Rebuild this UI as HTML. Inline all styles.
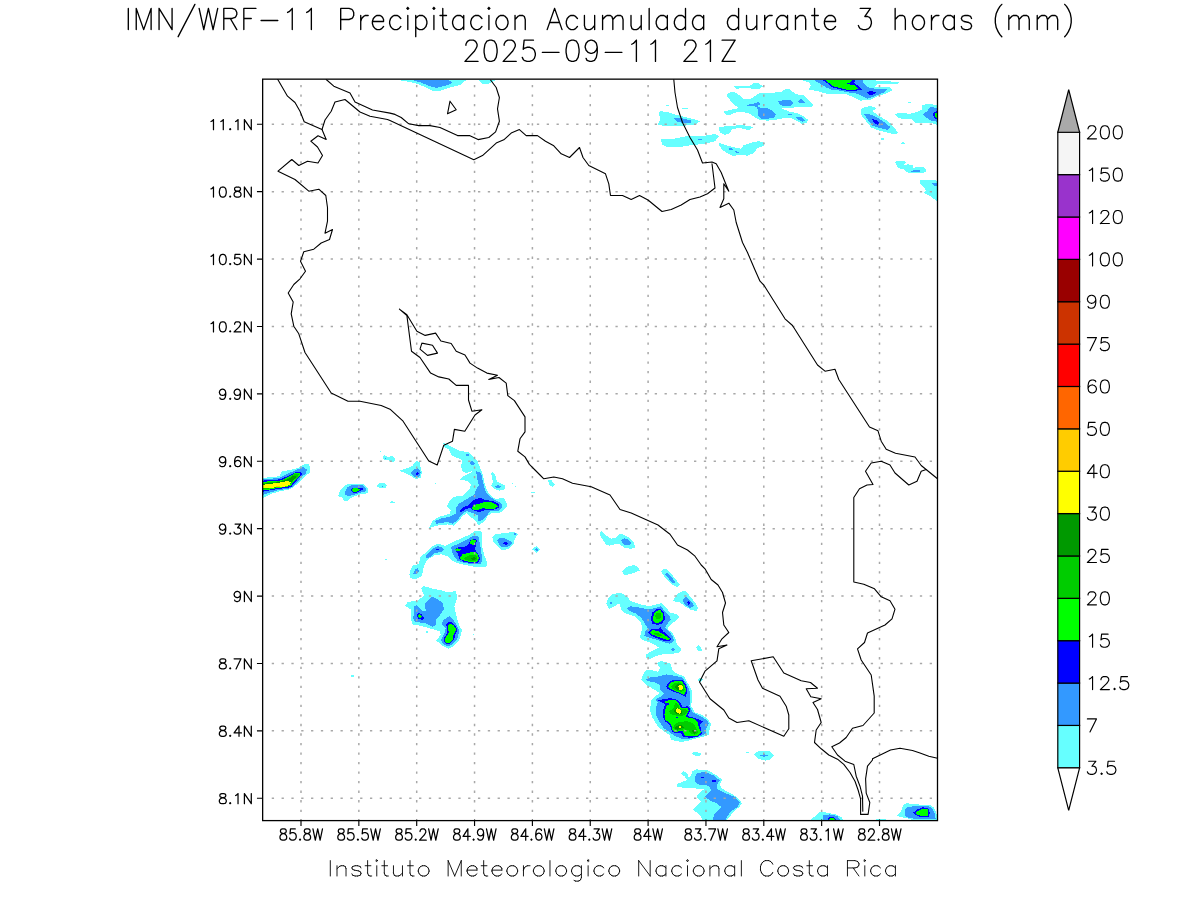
<!DOCTYPE html>
<html lang="es"><head><meta charset="utf-8"><title>IMN/WRF-11 Precipitacion Acumulada durante 3 horas (mm)</title>
<style>
html,body{margin:0;padding:0;background:#fff;}
body{width:1200px;height:900px;overflow:hidden;font-family:"Liberation Sans",sans-serif;}
svg{display:block}
.ax{font-family:"Liberation Sans",sans-serif;font-size:17.6px;fill:#000;stroke:#fff;stroke-width:0.15px}
.ay{font-family:"Liberation Sans",sans-serif;font-size:15.6px;fill:#000}
.hid{font-family:"Liberation Sans",sans-serif;fill:#000;fill-opacity:0}
</style></head><body>
<svg width="1200" height="900" viewBox="0 0 1200 900">
<rect x="0" y="0" width="1200" height="900" fill="#fff"/>
<defs><clipPath id="cp"><rect x="262.65" y="79.15" width="674.85" height="741.45"/></clipPath></defs>
<g clip-path="url(#cp)" shape-rendering="crispEdges" stroke="none">
<path fill="#66FFFF" d="M660.0 111.2L667.5 111.9L675.0 114.4L685.0 116.9L692.5 118.8L700.0 121.2L696.2 124.4L685.0 125.6L673.8 125.6L662.5 125.6L658.1 124.4L660.6 118.8L658.8 113.8Z"/>
<path fill="#3399FF" d="M674.4 117.5L680.0 117.5L686.2 119.4L691.9 120.6L690.6 122.8L683.8 123.1L677.5 121.9L674.4 119.4Z"/>
<path fill="#66FFFF" d="M666.2 105.0L668.8 105.0L668.8 105.8L666.2 105.8Z"/>
<path fill="#66FFFF" d="M681.9 107.9L687.8 107.9L687.8 108.8L681.9 108.8Z"/>
<path fill="#66FFFF" d="M660.6 139.4L673.8 138.8L690.0 135.6L705.0 135.6L715.0 134.0L718.8 136.2L715.0 141.2L705.0 143.8L692.5 145.0L680.0 146.9L667.5 146.9L662.5 145.0Z"/>
<path fill="#3399FF" d="M698.1 139.0L701.9 139.0L701.9 140.0L698.1 140.0Z"/>
<path fill="#66FFFF" d="M719.4 126.9L730.0 126.0L742.5 125.0L753.8 126.9L748.8 130.0L740.0 128.1L732.5 128.8L730.0 133.1L725.0 134.8L720.6 133.1L719.0 130.0Z"/>
<path fill="#66FFFF" d="M718.1 142.5L725.0 145.0L735.0 147.5L741.2 148.8L743.8 145.0L752.5 142.5L758.8 141.0L765.0 143.1L763.8 145.6L757.5 148.1L753.8 153.1L747.5 155.6L740.0 155.0L732.5 156.0L728.1 153.8L722.5 150.0L719.4 145.6Z"/>
<path fill="#3399FF" d="M728.1 148.8L731.2 148.1L733.8 149.8L730.0 150.6Z"/>
<path fill="#3399FF" d="M735.0 151.2L740.0 151.9L739.0 153.1L735.6 152.5Z"/>
<path fill="#66FFFF" d="M734.0 86.2L742.5 86.0L750.0 85.6L753.8 83.1L758.8 83.5L763.1 86.2L758.8 89.4L753.8 89.4L748.8 87.5L742.5 88.1L736.2 88.8Z"/>
<path fill="#66FFFF" d="M726.2 95.0L730.0 92.2L735.0 92.5L740.0 95.6L743.8 99.4L750.0 99.4L753.8 96.9L760.0 92.5L767.5 92.5L775.0 92.5L781.2 91.9L785.6 89.0L789.4 89.4L796.2 94.4L803.8 95.0L808.8 100.0L813.8 105.0L811.2 106.9L802.5 106.9L790.0 107.8L781.2 108.1L790.0 111.9L797.5 113.1L803.8 116.2L808.1 120.0L806.2 123.1L801.9 123.8L796.2 120.6L790.6 117.5L780.0 118.8L775.0 120.0L767.5 120.6L760.0 120.2L755.0 117.5L750.0 113.8L742.5 111.9L736.2 112.5L730.0 114.8L725.0 114.4L724.1 111.5L730.0 110.0L738.8 108.1L733.8 104.4L730.0 100.0Z"/>
<path fill="#3399FF" d="M746.2 105.0L752.5 103.8L759.4 101.9L759.8 104.4L757.5 106.2L761.2 107.8L767.5 108.1L772.5 110.6L775.6 114.4L774.4 117.5L767.5 118.8L761.2 118.5L758.5 115.6L758.1 111.2L756.9 107.5L753.8 106.2L748.1 106.2Z"/>
<path fill="#3399FF" d="M778.1 101.2L785.0 100.0L791.9 100.6L793.1 103.1L791.2 105.6L785.0 106.2L780.0 105.0Z"/>
<path fill="#3399FF" d="M797.5 101.2L801.2 98.8L805.0 102.5L799.4 102.8Z"/>
<path fill="#3399FF" d="M795.0 116.9L801.9 117.5L805.6 120.6L802.5 121.9L797.5 119.4Z"/>
<path fill="#3399FF" d="M788.1 114.0L791.9 114.0L791.9 115.0L788.1 115.0Z"/>
<path fill="#66FFFF" d="M801.2 80.0L808.8 82.5L811.2 85.6L808.1 89.4L815.0 90.6L827.5 93.8L835.0 94.4L845.0 93.8L852.5 96.9L860.0 100.6L870.0 100.0L877.5 96.2L885.0 93.8L892.5 90.0L890.0 87.5L875.0 86.9L877.5 84.4L890.0 84.4L901.9 83.1L896.2 81.9L887.5 81.2L877.5 80.6L870.0 80.0Z"/>
<path fill="#3399FF" d="M813.8 80.0L820.0 83.8L826.2 87.5L832.5 90.0L840.0 90.6L848.8 92.5L857.5 93.8L862.5 96.2L867.5 98.8L876.2 95.6L883.8 92.5L886.9 89.4L877.5 88.8L870.0 88.1L865.0 85.0L862.5 81.9L863.8 80.0Z"/>
<path fill="#0000FF" d="M821.9 80.0L827.5 83.1L831.2 86.9L840.0 89.4L848.8 91.0L856.2 90.6L862.5 89.4L858.1 85.6L854.4 83.1L855.0 80.0Z"/>
<path fill="#0000FF" d="M866.9 92.5L870.0 90.6L876.2 92.5L872.5 95.0L868.8 94.4Z"/>
<path fill="#00FF00" d="M825.6 80.0L830.0 83.8L833.1 86.2L840.0 88.1L848.8 90.2L854.4 90.0L858.1 88.8L855.0 85.6L846.2 83.8L851.2 81.9L852.5 80.0Z"/>
<path fill="#66FFFF" d="M860.6 109.4L865.0 106.9L871.2 106.2L876.2 108.1L872.5 111.2L877.5 115.0L885.0 119.4L891.2 123.8L895.0 128.8L898.8 133.1L893.8 134.4L885.0 131.9L877.5 130.0L871.2 127.5L866.2 121.2L861.2 115.0Z"/>
<path fill="#3399FF" d="M864.4 114.4L870.0 114.4L877.5 117.5L883.8 121.9L890.0 126.9L887.5 130.0L880.0 128.1L872.5 125.6L868.1 120.0Z"/>
<path fill="#0000FF" d="M871.9 118.8L876.2 120.0L879.4 123.1L877.5 125.0L873.8 123.1Z"/>
<path fill="#66FFFF" d="M893.8 113.8L902.5 113.1L910.0 113.8L917.5 111.9L922.5 109.4L921.9 105.6L926.2 104.0L937.5 104.8L937.5 125.0L931.2 123.1L922.5 122.5L915.0 123.1L911.9 118.8L905.0 119.4L898.8 118.1Z"/>
<path fill="#3399FF" d="M922.5 114.4L927.5 111.2L930.0 106.9L937.5 108.1L937.5 121.9L931.2 120.6L926.2 117.5Z"/>
<path fill="#0000FF" d="M932.5 113.8L935.0 111.9L937.5 111.2L937.5 120.0L934.4 118.1Z"/>
<path fill="#00FF00" d="M934.4 113.8L937.5 112.5L937.5 118.8L935.0 116.9Z"/>
<path fill="#66FFFF" d="M908.1 101.9L911.0 101.9L911.0 102.8L908.1 102.8Z"/>
<path fill="#66FFFF" d="M881.2 138.1L883.8 138.1L883.8 140.0L881.2 140.0Z"/>
<path fill="#66FFFF" d="M901.2 143.5L903.1 141.9L905.0 143.8Z"/>
<path fill="#66FFFF" d="M895.0 162.1L896.7 161.0L904.6 161.0L906.0 162.3L904.2 164.2L904.6 165.4L908.3 164.2L912.5 165.4L913.3 167.9L917.1 167.1L923.3 167.1L925.8 169.2L925.8 171.7L923.8 172.8L908.3 172.8L905.8 171.2L903.8 169.2L900.0 168.8L897.5 167.1L896.2 164.2Z"/>
<path fill="#3399FF" d="M910.8 171.7L913.3 170.0L920.0 170.0L920.0 171.7Z"/>
<path fill="#66FFFF" d="M920.0 180.2L935.0 180.2L936.8 181.2L937.9 181.2L937.9 202.5L930.8 196.2L926.7 194.6L923.8 192.9L926.2 190.4L920.0 183.3Z"/>
<path fill="#3399FF" d="M932.1 183.3L935.0 182.9L937.9 183.3L937.9 186.7L935.0 186.2Z"/>
<path fill="#66FFFF" d="M901.2 143.3L902.9 142.1L905.0 143.5L901.7 143.8Z"/>
<path fill="#66FFFF" d="M398.8 80.0L415.0 83.1L425.0 86.9L432.5 90.6L441.2 90.6L450.0 87.5L460.0 85.0L466.2 80.0Z"/>
<path fill="#3399FF" d="M412.5 80.0L422.5 83.1L430.0 86.2L436.2 87.8L443.8 86.2L452.5 83.1L448.8 80.0Z"/>
<path fill="#66FFFF" d="M478.8 80.0L482.5 83.8L488.8 83.8L495.6 80.0Z"/>
<path fill="#66FFFF" d="M262.5 477.9L271.2 477.1L279.4 476.2L281.9 471.2L290.0 470.0L297.5 468.1L303.8 464.4L309.4 464.4L310.0 472.5L305.0 476.2L296.2 485.0L290.0 489.4L280.0 491.2L271.2 493.8L262.5 498.1Z"/>
<path fill="#3399FF" d="M262.5 479.4L271.2 478.8L280.0 477.5L286.2 474.4L296.2 470.0L303.1 467.2L306.9 469.4L306.2 473.1L301.2 477.5L295.0 485.0L288.8 488.8L278.8 490.0L270.0 492.5L262.5 495.0Z"/>
<path fill="#0000FF" d="M262.5 480.6L271.2 480.0L280.0 479.4L287.5 476.2L296.2 471.9L301.2 471.5L301.9 474.4L297.5 479.4L291.2 486.9L286.2 488.1L277.5 489.0L268.8 490.6L262.5 491.9Z"/>
<path fill="#00FF00" d="M262.5 481.9L270.0 481.2L280.0 480.6L287.5 477.5L295.0 473.1L300.0 472.8L300.6 474.4L296.2 479.4L290.6 485.6L286.2 486.9L277.5 488.1L268.8 489.8L262.5 490.2Z"/>
<path fill="#00CC00" d="M262.5 482.8L271.2 482.2L280.0 481.2L288.1 478.1L295.0 474.0L298.8 474.0L298.1 476.9L293.8 480.0L289.4 485.6L283.8 486.5L273.8 487.8L262.5 489.4Z"/>
<path fill="#009900" d="M262.5 483.8L271.2 483.1L280.0 481.9L288.8 478.8L293.8 475.6L296.9 475.6L295.0 478.8L291.2 481.9L288.8 485.2L282.5 486.0L273.8 487.2L262.5 488.5Z"/>
<path fill="#FFFF00" d="M262.5 484.8L271.2 483.8L280.0 482.5L288.1 481.0L291.2 482.5L289.4 484.8L285.0 486.5L280.0 486.9L273.8 487.5L267.5 488.1L262.5 488.5Z"/>
<path fill="#FFCC00" d="M275.6 486.0L280.0 486.0L280.0 486.6L275.6 486.6Z"/>
<path fill="#66FFFF" d="M338.1 496.2L340.6 489.4L347.5 483.8L353.8 483.8L363.8 484.0L368.1 488.1L368.1 492.5L365.0 494.4L360.0 494.4L352.5 496.9L347.5 500.6L344.4 500.6L341.9 497.5Z"/>
<path fill="#3399FF" d="M345.0 491.9L347.5 487.5L351.9 485.0L362.5 485.0L366.2 488.1L366.2 491.2L361.2 492.5L355.0 494.4L348.8 496.2L345.6 495.0Z"/>
<path fill="#0000FF" d="M350.6 490.0L353.1 487.8L360.0 487.5L364.4 489.0L360.6 490.6L357.5 492.5L353.1 492.8Z"/>
<path fill="#00FF00" d="M351.2 490.0L353.8 488.1L358.1 488.5L360.0 489.8L357.5 491.5L353.8 491.9Z"/>
<path fill="#66FFFF" d="M376.9 485.0L380.0 482.5L384.4 482.5L386.9 485.0L385.6 487.5L380.0 488.1L377.5 486.9Z"/>
<path fill="#3399FF" d="M381.8 485.8L382.8 485.8L382.8 486.8L381.8 486.8Z"/>
<path fill="#66FFFF" d="M382.2 456.9L384.4 455.0L387.5 456.9L392.5 456.2L394.8 458.8L394.4 461.5L390.6 461.5L387.5 460.0L383.8 460.0Z"/>
<path fill="#3399FF" d="M385.0 457.5L386.2 457.5L386.2 458.8L385.0 458.8Z"/>
<path fill="#66FFFF" d="M379.5 451.0L380.8 451.0L380.8 452.0L379.5 452.0Z"/>
<path fill="#66FFFF" d="M390.0 502.1L391.9 501.2L394.8 502.1L394.8 502.9L390.0 502.9Z"/>
<path fill="#66FFFF" d="M443.1 442.5L447.5 444.4L453.8 448.1L460.0 451.2L468.8 451.9L473.1 456.2L477.5 461.2L480.0 467.5L482.5 473.8L484.4 482.5L486.9 490.0L490.0 495.0L495.0 498.8L503.8 498.1L505.6 501.2L507.5 505.6L503.8 510.0L500.0 512.5L491.2 513.1L487.5 516.2L485.0 521.2L478.8 525.0L475.0 520.6L470.0 516.2L466.2 513.1L462.5 516.2L457.5 522.5L453.8 525.6L447.5 524.4L437.5 525.6L428.8 528.1L432.5 521.2L438.8 516.9L450.0 513.8L450.6 510.0L446.9 506.2L450.0 500.0L453.8 496.9L462.5 495.6L468.8 490.0L471.2 485.0L468.8 481.9L465.0 480.6L460.0 479.4L462.5 476.9L470.0 473.1L471.9 471.2L466.2 473.1L461.9 471.2L461.2 465.6L462.5 460.0L457.5 458.1L451.2 455.0L448.8 449.4L444.4 446.9Z"/>
<path fill="#3399FF" d="M476.2 471.2L481.2 473.1L483.1 482.5L485.0 490.6L489.4 496.2L495.0 500.0L501.2 503.1L502.5 506.9L498.8 510.6L490.0 511.2L487.5 515.0L482.5 520.0L478.1 521.2L477.5 515.0L470.0 511.9L466.2 511.2L461.2 515.0L457.5 520.0L452.5 523.8L447.5 521.9L436.2 523.8L435.0 521.2L440.0 518.8L451.2 516.2L456.2 513.1L455.6 508.8L458.8 503.8L466.2 499.4L473.8 495.0L476.2 490.0L478.8 485.0L476.9 477.5Z"/>
<path fill="#3399FF" d="M466.2 453.8L469.4 453.8L469.4 455.6L466.2 455.6Z"/>
<path fill="#3399FF" d="M470.0 461.9L472.5 461.2L475.0 463.8L473.1 465.6L470.6 464.4Z"/>
<path fill="#0000FF" d="M460.0 510.6L463.1 507.5L468.8 505.0L471.2 501.9L476.2 498.8L481.2 498.1L485.0 500.0L493.8 501.2L498.8 503.8L499.4 506.9L496.2 509.4L485.0 510.0L480.0 511.9L475.0 511.2L470.0 508.1L466.2 508.8L462.5 511.2L460.0 512.8Z"/>
<path fill="#00FF00" d="M471.9 508.1L473.8 505.0L481.2 503.1L485.0 501.9L491.2 502.2L496.2 504.4L498.1 506.2L495.0 508.5L487.5 508.8L482.5 508.1L476.9 510.6L473.8 509.8Z"/>
<path fill="#66FFFF" d="M399.4 470.6L407.5 468.1L412.5 465.6L416.2 460.6L419.4 461.9L420.6 467.5L421.9 472.5L420.6 477.5L416.2 479.4L411.2 476.2L405.0 473.1Z"/>
<path fill="#3399FF" d="M411.2 472.5L413.8 469.4L418.1 468.1L420.6 471.9L420.0 476.2L415.6 477.5L411.9 475.0Z"/>
<path fill="#0000FF" d="M415.6 473.1L417.5 471.9L419.4 473.1L418.1 475.0L416.2 474.8Z"/>
<path fill="#66FFFF" d="M491.2 473.8L493.1 471.9L495.6 476.2L496.9 481.2L501.2 483.8L505.0 485.6L504.4 490.0L498.8 490.6L493.8 488.8L491.2 485.6L493.1 481.9L491.9 477.5Z"/>
<path fill="#3399FF" d="M495.0 486.2L498.1 484.8L501.2 486.5L498.8 488.5L496.0 487.8Z"/>
<path fill="#66FFFF" d="M434.8 482.8L435.8 482.8L435.8 483.8L434.8 483.8Z"/>
<path fill="#66FFFF" d="M512.0 482.8L513.0 482.8L513.0 483.8L512.0 483.8Z"/>
<path fill="#66FFFF" d="M514.8 485.8L515.8 485.8L515.8 486.8L514.8 486.8Z"/>
<path fill="#66FFFF" d="M531.2 492.0L534.8 492.0L534.8 492.9L531.2 492.9Z"/>
<path fill="#66FFFF" d="M409.4 575.0L410.6 569.4L413.1 565.6L418.8 563.8L420.6 556.2L426.2 552.5L431.2 546.9L436.2 544.4L441.2 544.4L445.0 546.2L451.2 543.1L460.0 538.8L468.8 535.0L475.0 531.2L481.2 531.2L482.5 536.2L481.9 545.0L483.8 553.8L487.5 563.8L486.2 566.9L475.0 566.9L465.0 565.0L457.5 563.1L451.2 560.0L447.5 556.2L441.2 554.4L435.0 555.0L428.8 558.8L425.0 563.1L423.1 570.0L421.9 576.2L415.0 579.4L410.6 578.1Z"/>
<path fill="#3399FF" d="M425.6 556.2L428.8 552.5L432.5 548.8L437.5 546.2L441.9 547.5L444.4 549.4L441.2 551.9L435.0 553.1L430.0 556.9L426.2 558.5Z"/>
<path fill="#0000FF" d="M435.6 549.0L439.4 549.0L439.4 550.0L435.6 550.0Z"/>
<path fill="#3399FF" d="M413.1 573.8L415.0 569.4L418.1 568.1L418.8 571.2L416.2 574.4Z"/>
<path fill="#3399FF" d="M451.2 546.9L460.0 543.1L467.5 539.4L473.1 535.6L478.1 535.6L480.0 543.8L481.2 552.5L482.5 560.0L480.6 564.4L473.8 564.4L465.0 563.1L457.5 560.6L453.8 556.2L451.9 551.2Z"/>
<path fill="#0000FF" d="M455.0 549.4L457.5 547.5L465.0 546.9L468.8 543.8L470.0 540.6L473.8 538.8L476.9 540.0L476.2 544.4L475.0 549.4L478.1 553.8L480.0 558.8L478.1 562.5L471.2 563.1L463.8 561.9L459.4 558.8L457.5 553.1Z"/>
<path fill="#00FF00" d="M470.0 541.9L472.5 539.4L476.0 540.0L475.0 543.1L473.1 545.0L470.6 544.0Z"/>
<path fill="#00FF00" d="M455.2 549.4L457.5 548.1L461.2 549.8L459.4 551.2L456.2 551.0Z"/>
<path fill="#00FF00" d="M460.2 557.5L462.5 554.4L468.8 552.8L475.0 551.5L477.8 554.4L479.0 558.8L476.9 561.5L470.0 561.9L463.8 560.6L460.6 559.4Z"/>
<path fill="#00CC00" d="M463.8 558.1L468.8 555.6L475.0 554.4L477.5 557.5L476.2 560.6L470.0 561.0L465.0 560.0Z"/>
<path fill="#009900" d="M471.2 558.1L475.0 556.9L476.2 558.8L474.4 560.2L471.9 559.8Z"/>
<path fill="#66FFFF" d="M492.2 537.5L495.0 534.4L503.8 533.1L513.8 531.9L518.1 533.8L515.0 538.8L513.1 545.0L507.5 549.4L501.2 550.0L497.5 546.2L493.8 542.5Z"/>
<path fill="#3399FF" d="M496.9 540.0L500.0 538.1L505.0 538.5L508.8 540.6L512.5 542.5L510.0 545.6L505.0 547.5L501.2 546.5L498.8 543.8Z"/>
<path fill="#0000FF" d="M503.1 543.1L505.0 541.9L508.8 543.1L506.2 544.8L504.0 544.4Z"/>
<path fill="#3399FF" d="M513.8 533.1L516.2 533.1L516.2 534.8L513.8 534.8Z"/>
<path fill="#66FFFF" d="M532.1 549.4L536.2 546.0L540.6 549.4L536.9 552.8Z"/>
<path fill="#3399FF" d="M535.0 549.4L536.9 548.1L538.8 549.8L536.9 551.0Z"/>
<path fill="#66FFFF" d="M405.0 606.2L407.5 601.9L417.5 600.6L424.0 595.6L421.2 588.1L423.8 586.2L432.5 588.5L442.5 590.6L448.8 592.5L455.6 591.0L457.5 597.5L454.4 606.2L456.2 615.0L458.8 624.4L461.9 630.0L460.0 638.8L455.0 645.0L448.8 648.8L442.5 645.6L436.2 640.6L440.6 635.0L440.0 631.2L431.2 628.8L420.0 625.6L412.5 624.4L410.6 618.8L411.2 609.4Z"/>
<path fill="#3399FF" d="M413.8 606.2L416.9 605.0L421.9 610.6L425.6 610.6L425.0 603.1L431.9 596.2L436.9 598.8L443.1 603.1L443.8 609.4L440.0 615.0L435.6 620.0L436.2 625.0L432.5 626.9L425.0 623.1L415.0 621.9L413.1 618.1L414.4 610.6Z"/>
<path fill="#0000FF" d="M416.9 615.0L418.8 612.2L421.9 614.8L424.0 618.1L422.5 619.8L418.1 618.8Z"/>
<path fill="#00FF00" d="M417.9 615.6L419.6 613.8L421.9 616.5L420.9 618.1L418.8 617.5Z"/>
<path fill="#3399FF" d="M441.2 623.1L445.0 618.8L450.0 616.2L453.8 620.6L457.5 626.9L459.4 631.2L456.9 640.0L452.5 644.4L447.5 646.5L443.1 643.8L441.2 640.0L444.4 633.8L445.6 628.1Z"/>
<path fill="#0000FF" d="M446.2 624.4L448.1 621.9L451.9 622.2L455.0 625.0L457.5 629.4L455.6 633.8L453.8 640.0L450.0 643.8L446.2 644.0L443.5 641.2L444.4 637.5L447.5 632.5L446.9 627.5Z"/>
<path fill="#00FF00" d="M448.1 625.0L450.6 623.5L453.8 625.6L456.2 629.4L454.4 633.1L452.5 636.2L452.5 640.0L449.4 642.8L445.6 642.5L444.4 640.0L446.2 636.9L448.8 632.5L448.1 628.8Z"/>
<path fill="#66FFFF" d="M426.0 631.2L427.8 631.2L427.8 633.1L426.0 633.1Z"/>
<path fill="#66FFFF" d="M473.0 634.0L474.1 634.0L474.1 635.1L473.0 635.1Z"/>
<path fill="#66FFFF" d="M600.0 531.9L601.9 531.0L606.2 535.6L611.2 538.8L615.6 537.5L618.8 534.4L623.1 534.4L630.0 538.1L633.8 541.9L635.0 547.5L631.2 548.8L625.0 548.1L620.0 544.4L615.6 544.0L610.0 545.6L606.2 545.0L602.5 539.4L600.0 535.0Z"/>
<path fill="#3399FF" d="M621.2 540.0L624.4 538.1L628.8 540.0L631.9 543.1L629.4 545.6L625.0 545.0L622.5 542.8Z"/>
<path fill="#66FFFF" d="M622.2 571.9L625.0 568.1L629.4 566.0L634.4 565.0L638.1 567.5L640.0 570.6L636.2 571.9L630.0 574.4L623.8 574.8Z"/>
<path fill="#66FFFF" d="M661.2 571.9L663.1 569.4L666.9 569.4L671.2 573.8L675.6 579.4L680.0 584.4L677.5 586.9L672.5 585.0L667.5 580.0L663.1 575.0Z"/>
<path fill="#3399FF" d="M665.0 574.4L666.9 572.5L670.0 575.0L673.8 580.0L675.6 583.1L672.5 583.1L668.8 578.8L666.2 576.2Z"/>
<path fill="#66FFFF" d="M673.1 600.6L676.9 594.4L682.5 591.0L686.2 591.5L690.0 596.2L695.0 602.5L698.1 607.5L696.2 611.2L690.0 609.4L685.0 606.2L680.0 602.5L675.6 601.9Z"/>
<path fill="#3399FF" d="M683.1 600.0L685.6 596.9L688.8 598.8L692.5 603.1L694.0 606.2L690.0 608.1L686.2 605.6L683.8 603.1Z"/>
<path fill="#0000FF" d="M686.9 602.5L688.8 601.0L690.0 603.1L688.5 605.0Z"/>
<path fill="#66FFFF" d="M606.2 603.8L608.1 598.1L612.5 593.8L621.2 593.1L627.5 596.9L630.0 600.6L640.0 604.4L650.0 606.2L656.2 604.4L661.2 603.1L666.2 607.5L670.0 613.1L676.2 613.8L679.4 617.5L675.0 621.2L670.0 625.0L667.5 628.8L672.5 633.1L675.0 637.5L676.9 643.8L681.9 650.0L678.8 652.5L672.5 653.8L665.0 653.8L657.5 655.6L650.0 658.8L645.6 658.1L646.2 654.4L651.2 651.2L658.8 647.5L655.0 645.0L650.0 642.5L642.5 640.0L640.0 638.1L641.2 631.9L642.5 627.5L640.0 621.2L635.0 616.2L626.2 613.8L621.2 610.0L619.4 603.1L613.8 606.9L608.8 608.8Z"/>
<path fill="#3399FF" d="M626.9 608.8L630.0 606.2L638.8 607.5L648.8 609.4L655.0 608.1L661.2 606.2L665.0 611.9L669.4 616.2L670.6 619.4L667.5 623.8L665.0 627.5L670.0 632.5L673.1 636.9L673.8 641.2L670.0 643.8L665.0 642.5L657.5 640.0L650.0 638.1L644.4 635.6L645.0 631.9L648.1 628.8L645.0 623.8L641.2 617.5L635.0 613.1L630.0 611.2Z"/>
<path fill="#3399FF" d="M670.0 650.0L673.1 647.8L675.0 650.0L673.8 651.2Z"/>
<path fill="#3399FF" d="M610.0 602.2L611.9 602.2L611.9 604.0L610.0 604.0Z"/>
<path fill="#0000FF" d="M650.6 618.8L652.5 612.5L656.2 609.4L660.6 608.5L663.8 612.5L665.0 618.8L661.9 623.8L657.5 625.0L652.5 623.5Z"/>
<path fill="#00FF00" d="M652.9 618.8L654.0 613.1L656.9 610.6L660.6 610.2L662.8 613.8L663.1 618.8L660.6 622.2L656.9 623.1L653.8 621.9Z"/>
<path fill="#00CC00" d="M655.0 615.6L657.2 612.5L660.6 613.1L661.5 616.2L659.8 619.0L656.5 618.5Z"/>
<path fill="#0000FF" d="M648.1 631.9L651.2 629.4L657.5 629.4L660.6 627.2L663.1 631.2L667.5 635.0L671.2 638.1L670.0 641.2L666.2 641.5L660.0 639.4L653.8 636.9L650.0 634.8Z"/>
<path fill="#00FF00" d="M650.0 632.2L652.5 630.2L658.1 631.0L662.5 633.8L667.5 636.9L670.6 639.0L667.5 640.0L661.2 638.1L655.0 635.6L651.2 634.0Z"/>
<path fill="#00CC00" d="M653.1 632.5L657.5 632.5L662.5 635.6L660.0 636.5L655.0 634.8Z"/>
<path fill="#66FFFF" d="M696.2 646.9L698.8 644.8L701.2 647.5L701.9 650.6L698.8 651.0L696.9 648.8Z"/>
<path fill="#66FFFF" d="M641.2 679.4L645.0 670.6L651.2 670.0L658.1 671.9L660.0 668.1L656.9 663.1L661.2 661.0L670.0 663.1L673.1 671.2L678.8 674.4L683.8 676.2L687.5 682.5L691.2 688.8L692.5 695.0L691.2 706.2L695.0 712.5L702.5 715.0L707.5 718.8L711.2 723.8L709.4 730.0L708.8 735.0L702.5 736.9L695.0 738.8L686.2 741.2L681.2 741.9L671.2 740.0L669.4 735.0L663.8 731.2L657.5 726.2L652.5 717.5L650.0 710.0L651.2 700.0L655.0 696.2L660.0 693.1L655.0 690.0L646.2 685.0Z"/>
<path fill="#3399FF" d="M646.2 679.4L650.0 677.5L660.0 676.2L666.2 674.4L673.8 675.6L682.5 677.5L686.2 683.1L689.4 690.0L690.0 697.5L689.4 706.2L693.1 712.5L700.0 716.2L706.2 719.4L708.8 723.1L706.2 728.8L706.2 733.8L700.0 736.2L692.5 738.1L683.8 739.4L675.0 736.2L670.0 732.5L663.8 728.1L660.0 722.5L656.2 715.0L655.6 710.0L657.5 702.5L655.0 700.0L661.2 696.2L663.8 693.8L660.0 690.0L660.0 685.0L653.8 681.9L647.5 681.2Z"/>
<path fill="#0000FF" d="M666.2 686.2L669.4 681.9L673.8 679.8L682.5 680.2L686.2 685.0L687.5 691.2L685.6 696.9L680.0 693.8L672.5 691.2L667.5 688.8Z"/>
<path fill="#00FF00" d="M668.1 686.2L670.6 682.8L675.0 681.0L681.9 681.5L685.0 685.6L686.2 691.2L683.8 694.8L678.8 692.5L672.5 690.0L669.0 688.1Z"/>
<path fill="#00CC00" d="M671.2 686.2L673.8 683.5L678.8 682.2L683.8 685.0L684.8 690.0L681.2 691.9L676.2 690.6L672.5 688.8Z"/>
<path fill="#009900" d="M675.0 686.9L677.5 684.4L681.9 684.4L683.8 688.1L681.2 690.6L677.5 690.0Z"/>
<path fill="#FFFF00" d="M678.1 686.2L680.0 684.4L682.5 685.6L683.8 688.1L681.9 690.0L679.4 690.0Z"/>
<path fill="#0000FF" d="M658.1 700.6L662.5 699.4L670.0 698.1L676.2 699.4L680.0 702.5L682.5 706.9L688.1 706.2L690.6 710.0L687.5 716.2L695.0 718.1L703.1 721.2L700.0 725.0L701.2 730.0L701.9 733.8L697.5 736.9L691.2 737.8L683.8 737.2L681.2 733.8L678.8 732.5L675.0 733.5L671.9 731.2L670.0 725.0L665.0 721.2L662.5 716.2L663.1 710.0L665.0 705.0L662.5 702.5Z"/>
<path fill="#00FF00" d="M664.4 701.2L670.0 700.0L675.6 700.2L678.8 703.1L681.2 708.1L687.5 707.5L688.8 710.6L685.6 716.9L693.8 718.8L697.5 722.5L698.8 727.5L701.5 732.5L697.5 735.6L691.2 736.5L685.0 736.0L683.8 733.1L682.5 731.2L678.8 731.2L675.0 732.5L672.5 730.0L671.2 725.0L669.4 722.5L665.6 720.0L664.4 715.0L665.0 710.0L666.5 705.6L670.6 703.8L665.0 702.5Z"/>
<path fill="#00CC00" d="M669.4 711.2L673.8 708.1L675.0 702.5L678.1 704.4L680.0 708.8L686.2 709.4L688.1 711.2L685.0 715.0L680.0 716.2L673.8 715.0L670.0 713.8Z"/>
<path fill="#009900" d="M673.8 711.2L676.2 708.1L679.4 709.4L682.5 711.2L681.2 714.4L676.9 714.4Z"/>
<path fill="#FFFF00" d="M676.0 710.0L677.8 708.1L680.6 709.8L681.5 711.9L679.4 713.8L676.9 712.8Z"/>
<path fill="#0000FF" d="M676.0 716.9L677.8 716.9L677.8 717.8L676.0 717.8Z"/>
<path fill="#00CC00" d="M673.1 728.1L675.0 723.8L680.0 721.9L687.5 721.2L693.8 723.8L696.2 728.1L698.1 732.5L695.0 734.8L691.2 733.8L688.1 730.0L683.8 729.4L680.0 730.0L676.2 731.2Z"/>
<path fill="#009900" d="M675.0 728.1L676.9 725.6L681.2 725.0L683.8 727.5L680.0 729.0L676.9 729.8Z"/>
<path fill="#009900" d="M691.2 731.2L693.8 729.4L696.2 731.9L694.4 733.8Z"/>
<path fill="#FFFF00" d="M678.1 726.9L680.0 725.6L681.2 727.2L679.8 728.1Z"/>
<path fill="#66FFFF" d="M697.5 680.0L700.0 677.5L703.1 679.4L700.6 682.2Z"/>
<path fill="#66FFFF" d="M691.9 752.8L696.2 751.9L700.6 753.1L701.9 755.2L696.2 756.0L693.8 755.0Z"/>
<path fill="#66FFFF" d="M746.0 752.1L748.8 752.1L748.8 752.9L746.0 752.9Z"/>
<path fill="#66FFFF" d="M676.9 783.8L682.5 781.9L686.9 780.0L684.4 776.2L681.2 773.8L683.8 771.0L687.5 773.8L688.1 776.9L691.2 776.2L691.9 771.2L696.2 769.4L707.5 770.0L715.0 774.4L721.9 779.4L720.0 785.0L721.2 788.1L727.5 791.9L733.8 795.0L740.0 800.0L741.9 803.8L738.8 807.5L733.8 811.2L730.0 816.2L726.2 820.6L702.5 820.6L700.0 815.0L692.5 809.4L697.5 805.0L701.2 801.2L696.2 796.9L700.0 792.5L703.8 789.4L692.5 788.1L682.5 787.5L677.5 786.9Z"/>
<path fill="#3399FF" d="M695.0 777.5L696.9 773.1L705.0 771.9L713.8 775.6L720.0 780.6L716.9 784.4L717.5 789.4L725.0 793.1L735.0 796.9L740.0 802.5L737.5 806.9L731.2 811.2L727.5 816.2L725.0 820.6L713.1 820.6L713.8 814.4L721.2 806.9L716.2 803.1L710.0 800.6L705.0 796.9L711.2 790.0L708.8 785.6L700.0 785.0L695.6 782.5Z"/>
<path fill="#0000FF" d="M700.9 776.9L704.0 776.9L704.0 777.8L700.9 777.8Z"/>
<path fill="#0000FF" d="M712.2 780.0L716.0 780.0L716.0 781.9L712.2 781.9Z"/>
<path fill="#66FFFF" d="M753.8 754.8L757.5 751.5L770.0 751.2L774.0 755.2L770.0 759.8L765.0 760.6L758.8 759.0Z"/>
<path fill="#3399FF" d="M760.0 755.6L763.8 754.0L767.8 755.6L763.8 756.9Z"/>
<path fill="#66FFFF" d="M746.0 752.0L748.8 752.0L748.8 752.9L746.0 752.9Z"/>
<path fill="#66FFFF" d="M810.0 820.6L816.2 815.0L819.4 811.9L826.2 812.5L836.2 814.4L841.2 816.9L843.8 820.6Z"/>
<path fill="#3399FF" d="M822.5 820.6L823.5 815.0L830.0 814.4L837.5 816.2L840.6 820.6Z"/>
<path fill="#0000FF" d="M827.5 820.6L828.8 817.2L833.8 816.9L836.9 820.6Z"/>
<path fill="#00FF00" d="M829.0 820.6L829.8 817.8L833.8 817.8L835.2 820.6Z"/>
<path fill="#66FFFF" d="M896.9 815.6L901.2 811.2L903.1 805.0L906.2 803.1L915.0 804.4L930.0 804.8L933.8 807.5L936.2 812.5L937.5 820.6L915.0 820.6L906.2 818.1L900.0 816.9Z"/>
<path fill="#3399FF" d="M905.0 815.0L905.0 810.0L907.5 807.2L915.0 806.0L928.8 806.0L932.5 808.8L935.0 813.8L935.6 818.8L927.5 818.8L917.5 819.0L910.0 818.1L906.2 816.9Z"/>
<path fill="#0000FF" d="M913.1 812.5L917.5 809.4L922.5 807.2L928.1 808.1L929.8 812.5L928.8 816.5L920.0 816.9L915.6 815.0Z"/>
<path fill="#00FF00" d="M915.6 812.5L919.4 810.0L923.1 808.5L927.5 809.4L928.5 812.5L927.5 815.6L920.0 815.6L916.9 814.4Z"/>
<path fill="#66FFFF" d="M872.5 820.6L877.5 818.8L885.0 818.5L888.1 820.6Z"/>
<path fill="#66FFFF" d="M350.8 675.0L353.8 675.0L353.8 677.0L350.8 677.0Z"/>
<path fill="#66FFFF" d="M385.0 559.0L387.0 559.0L387.0 560.0L385.0 560.0Z"/>
<path fill="#66FFFF" d="M548.0 480.5L551.2 480.0L555.0 485.0L552.5 487.0L549.5 485.0Z"/>
<path fill="#66FFFF" d="M531.2 491.5L535.0 491.5L535.0 493.0L531.2 493.0Z"/>
</g>
<path d="M271.75 124.25H935.50M271.75 191.65H935.50M271.75 259.05H935.50M271.75 326.45H935.50M271.75 393.85H935.50M271.75 461.25H935.50M271.75 528.65H935.50M271.75 596.05H935.50M271.75 663.45H935.50M271.75 730.85H935.50M271.75 798.25H935.50" fill="none" stroke="#a8a8a8" stroke-width="1.5" stroke-dasharray="2.3 7.52"/>
<path d="M301.00 811.95V81.15M358.85 811.95V81.15M416.70 811.95V81.15M474.55 811.95V81.15M532.40 811.95V81.15M590.25 811.95V81.15M648.10 811.95V81.15M705.95 811.95V81.15M763.80 811.95V81.15M821.65 811.95V81.15M879.50 811.95V81.15" fill="none" stroke="#a8a8a8" stroke-width="1.5" stroke-dasharray="2.3 7.235"/>
<g clip-path="url(#cp)" fill="none" stroke="#000" stroke-width="1.1" stroke-linejoin="round" stroke-linecap="round">
<path d="M277.5 79.0L287.5 96.2L295.0 102.5L300.0 111.2L304.2 121.8L322.0 129.5L326.2 139.5L318.0 135.8L310.8 141.2L317.5 147.0L322.5 155.5L318.0 163.0L307.5 161.2L298.8 165.5L291.8 159.5L278.0 171.2L295.0 179.5L308.8 191.2L318.8 189.2L325.8 195.5L327.5 207.5L327.5 221.2L325.0 233.2L332.5 229.5L329.5 239.5L321.2 243.0L313.8 249.2L303.8 251.8L300.5 261.2L305.5 271.2L300.0 278.8L293.8 284.5L288.2 293.0L293.2 302.0L291.2 313.8L293.8 326.2L298.8 333.8L305.0 352.5L331.2 393.0L348.0 401.2L360.0 401.2L381.2 405.5L390.0 409.2L403.1 421.2L428.8 461.0L437.2 465.0L443.8 445.2L452.5 441.2L454.4 429.4L464.8 431.2L475.0 415.0L481.9 409.8L471.9 411.2L468.5 400.0L468.5 395.0L468.5 399.4L468.5 385.4L456.2 385.4L448.8 379.0L438.8 376.9L430.6 373.1L420.0 357.5L411.5 351.2L406.9 315.6L399.4 309.1L406.9 314.8L416.9 331.2L425.2 335.4L435.6 333.1L440.9 341.0L451.2 343.5L456.2 351.2L465.0 355.0L470.0 363.1L477.5 368.1L486.9 373.1L497.5 375.2L488.8 379.4L499.0 377.5L506.2 383.1L507.8 395.6L514.4 400.6L525.0 416.9L525.0 431.9L520.0 438.8L517.8 451.2L525.0 456.9L529.4 464.4L535.0 470.0L540.0 475.0L543.8 478.8L553.8 477.0L562.5 478.8L572.5 483.2L591.2 486.8L610.0 495.0L620.0 509.5L631.2 513.0L658.0 525.0L670.0 534.2L677.5 545.0L687.5 550.0L695.0 556.2L701.2 565.0L705.0 568.8L711.2 579.5L718.0 585.0L722.5 592.5L725.5 603.0L722.5 612.5L723.8 625.0L728.8 632.5L722.0 638.8L717.0 646.8L727.0 645.0L718.8 648.8L717.0 660.8L705.0 671.2L699.5 682.0L710.0 698.8L723.8 710.0L728.8 718.0L737.0 722.5L748.8 720.8L783.8 736.2L788.8 728.8L788.8 715.0L786.2 706.2L780.0 696.2L762.5 688.2L758.0 680.0L751.2 660.8L773.2 656.8L783.8 673.0L801.2 680.8L810.5 682.5L817.5 688.2L806.2 688.8L810.8 696.8L821.2 698.8L813.0 702.5L817.5 709.5L821.2 722.5L816.2 730.0L814.5 742.5L821.2 748.8L828.8 755.0L837.5 759.2L843.8 764.4L850.0 772.5L855.0 781.2L858.1 790.0L860.6 798.8L860.6 814.4L868.1 814.4L869.8 802.5L866.2 793.1L865.6 778.8L867.5 766.2L872.5 760.0L872.5 758.8L890.5 750.0L900.0 748.2L912.5 750.5L920.0 753.0L928.8 756.2L937.5 758.2"/>
<path d="M421.9 343.1L432.5 345.2L437.5 353.1L427.5 355.4L420.0 349.1L421.9 343.1"/>
<path d="M326.2 79.5L333.8 86.2L350.0 93.0L355.0 102.0L372.5 110.0L390.0 113.1L395.0 114.4L401.2 117.5L408.8 123.8L418.8 125.6L430.0 125.6L440.0 127.5L457.5 135.6L469.4 135.6L478.1 139.6L488.8 137.5L495.6 131.9L499.4 121.2L497.5 108.8L499.4 97.5L496.2 87.5L490.6 80.0"/>
<path d="M450.0 101.2L447.5 113.8L456.2 109.8L450.0 101.2"/>
<path d="M322.0 129.5L325.0 120.0L331.2 111.2L335.0 102.0L345.0 99.5L360.0 112.0L370.0 116.2L387.5 119.5L390.0 120.6L473.8 159.8L482.5 155.6L496.2 143.1L503.8 139.8L511.2 133.1L519.4 129.6L526.2 135.6L537.5 135.6L545.5 141.2L553.8 145.8L561.2 153.8L569.5 157.5L579.5 147.5L583.0 157.5L588.8 165.5L605.5 173.8L608.8 183.8L610.5 195.5L622.5 195.5L631.2 199.5L639.5 195.5L648.0 200.0L662.0 211.5L671.2 209.5L681.2 205.0L690.0 199.5L700.0 197.0L707.5 193.8L715.0 188.0L712.0 163.8"/>
<path d="M673.8 79.5L675.0 92.5L677.5 107.5L682.5 122.5L690.0 137.5L697.5 150.0L702.5 163.0L712.0 162.0L716.2 163.8L721.2 172.5L726.2 185.0L728.8 191.2L723.8 183.8L723.8 198.8L720.0 207.5L728.8 203.2L733.8 210.0L736.2 222.5L742.5 242.5L747.5 252.5L755.0 270.0L760.0 281.2L763.8 285.0L785.0 318.8L785.0 318.8L792.5 325.5L817.5 365.0L825.0 371.2L835.0 369.2L838.8 379.5L869.5 427.0L878.0 430.8L881.2 441.2L886.2 449.2L895.5 453.2L915.0 457.0L921.2 465.5L937.5 478.8"/>
<path d="M926.2 469.5L921.2 471.2L917.0 481.2L908.8 485.0L895.0 473.0L890.0 465.0L881.2 461.2L871.2 463.0L865.5 471.2L873.0 484.5L867.0 485.0L859.5 488.8L853.8 497.5L853.8 510.0L853.8 582.0L863.8 584.2L874.5 588.8L881.2 596.8L890.0 600.8L895.0 609.2L892.0 618.8L885.0 625.0L867.5 633.0L864.5 642.5L857.5 648.8L861.2 660.0L871.2 675.0L874.2 696.2L874.2 713.0L863.0 725.5L852.5 728.2L846.2 737.5L839.5 743.0L831.8 746.8L837.5 755.0L845.0 761.2L853.8 764.5L856.2 776.2L860.0 786.2L862.5 796.2L862.8 811.2"/>
</g>
<rect x="262.65" y="79.15" width="674.85" height="741.45" fill="none" stroke="#000" stroke-width="1.3"/>
<path d="M256.95 124.25H262.65M256.95 191.65H262.65M256.95 259.05H262.65M256.95 326.45H262.65M256.95 393.85H262.65M256.95 461.25H262.65M256.95 528.65H262.65M256.95 596.05H262.65M256.95 663.45H262.65M256.95 730.85H262.65M256.95 798.25H262.65M301.00 819.40V825.90M358.85 819.40V825.90M416.70 819.40V825.90M474.55 819.40V825.90M532.40 819.40V825.90M590.25 819.40V825.90M648.10 819.40V825.90M705.95 819.40V825.90M763.80 819.40V825.90M821.65 819.40V825.90M879.50 819.40V825.90" fill="none" stroke="#000" stroke-width="1.15"/>
<text class="hid" x="252" y="129.8" font-size="15" text-anchor="end">11.1N</text>
<text class="hid" x="252" y="197.2" font-size="15" text-anchor="end">10.8N</text>
<text class="hid" x="252" y="264.6" font-size="15" text-anchor="end">10.5N</text>
<text class="hid" x="252" y="332.0" font-size="15" text-anchor="end">10.2N</text>
<text class="hid" x="252" y="399.4" font-size="15" text-anchor="end">9.9N</text>
<text class="hid" x="252" y="466.8" font-size="15" text-anchor="end">9.6N</text>
<text class="hid" x="252" y="534.2" font-size="15" text-anchor="end">9.3N</text>
<text class="hid" x="252" y="601.6" font-size="15" text-anchor="end">9N</text>
<text class="hid" x="252" y="669.0" font-size="15" text-anchor="end">8.7N</text>
<text class="hid" x="252" y="736.4" font-size="15" text-anchor="end">8.4N</text>
<text class="hid" x="252" y="803.8" font-size="15" text-anchor="end">8.1N</text>
<text class="hid" x="301.0" y="840" font-size="15" text-anchor="middle">85.8W</text>
<text class="hid" x="358.9" y="840" font-size="15" text-anchor="middle">85.5W</text>
<text class="hid" x="416.7" y="840" font-size="15" text-anchor="middle">85.2W</text>
<text class="hid" x="474.6" y="840" font-size="15" text-anchor="middle">84.9W</text>
<text class="hid" x="532.4" y="840" font-size="15" text-anchor="middle">84.6W</text>
<text class="hid" x="590.2" y="840" font-size="15" text-anchor="middle">84.3W</text>
<text class="hid" x="648.1" y="840" font-size="15" text-anchor="middle">84W</text>
<text class="hid" x="706.0" y="840" font-size="15" text-anchor="middle">83.7W</text>
<text class="hid" x="763.8" y="840" font-size="15" text-anchor="middle">83.4W</text>
<text class="hid" x="821.6" y="840" font-size="15" text-anchor="middle">83.1W</text>
<text class="hid" x="879.5" y="840" font-size="15" text-anchor="middle">82.8W</text>
<path d="M213.48 119.60L213.48 129.70M213.48 119.60L212.01 121.04M212.01 121.04L211.02 121.52M223.30 119.60L223.30 129.70M223.30 119.60L221.83 121.04M221.83 121.04L220.84 121.52M230.17 128.74L229.68 129.22M230.17 128.74L230.66 129.22M229.68 129.22L230.17 129.70M230.66 129.22L230.17 129.70M238.03 119.60L238.03 129.70M238.03 119.60L236.56 121.04M236.56 121.04L235.57 121.52M244.41 119.60L251.29 129.70M244.41 119.60L244.41 129.70M251.29 119.60L251.29 129.70M213.48 187.00L213.48 197.10M213.48 187.00L212.01 188.44M212.01 188.44L211.02 188.92M219.86 188.92L219.37 191.33M225.75 188.92L226.25 191.33M219.37 192.77L219.86 195.18M226.25 192.77L225.75 195.18M220.84 187.48L219.86 188.92M224.77 187.48L225.75 188.92M219.86 195.18L220.84 196.62M225.75 195.18L224.77 196.62M222.32 187.00L220.84 187.48M223.30 187.00L224.77 187.48M220.84 196.62L222.32 197.10M224.77 196.62L223.30 197.10M219.37 191.33L219.37 192.77M226.25 191.33L226.25 192.77M222.32 187.00L223.30 187.00M222.32 197.10L223.30 197.10M230.17 196.14L229.68 196.62M230.17 196.14L230.66 196.62M229.68 196.62L230.17 197.10M230.66 196.62L230.17 197.10M236.06 190.85L238.03 191.33M239.01 190.85L237.05 191.33M236.56 187.00L238.52 187.00M236.56 197.10L238.52 197.10M236.56 187.00L235.08 187.48M238.52 187.00L239.99 187.48M237.05 191.33L235.57 191.81M238.03 191.33L239.50 191.81M235.08 196.62L236.56 197.10M239.99 196.62L238.52 197.10M234.10 193.73L234.10 195.18M240.97 193.73L240.97 195.18M235.57 191.81L234.59 192.77M239.50 191.81L240.48 192.77M235.08 187.48L234.59 188.44M239.99 187.48L240.48 188.44M234.59 189.40L235.08 190.37M240.48 189.40L239.99 190.37M235.08 190.37L236.06 190.85M239.99 190.37L239.01 190.85M234.59 192.77L234.10 193.73M240.48 192.77L240.97 193.73M234.10 195.18L234.59 196.14M240.97 195.18L240.48 196.14M234.59 188.44L234.59 189.40M240.48 188.44L240.48 189.40M234.59 196.14L235.08 196.62M240.48 196.14L239.99 196.62M244.41 187.00L251.29 197.10M244.41 187.00L244.41 197.10M251.29 187.00L251.29 197.10M213.48 254.40L213.48 264.50M213.48 254.40L212.01 255.84M212.01 255.84L211.02 256.32M219.86 256.32L219.37 258.73M225.75 256.32L226.25 258.73M219.37 260.17L219.86 262.58M226.25 260.17L225.75 262.58M220.84 254.88L219.86 256.32M224.77 254.88L225.75 256.32M219.86 262.58L220.84 264.02M225.75 262.58L224.77 264.02M222.32 254.40L220.84 254.88M223.30 254.40L224.77 254.88M220.84 264.02L222.32 264.50M224.77 264.02L223.30 264.50M219.37 258.73L219.37 260.17M226.25 258.73L226.25 260.17M222.32 254.40L223.30 254.40M222.32 264.50L223.30 264.50M230.17 263.54L229.68 264.02M230.17 263.54L230.66 264.02M229.68 264.02L230.17 264.50M230.66 264.02L230.17 264.50M235.08 254.40L239.99 254.40M235.08 254.40L234.59 258.73M236.56 257.77L235.08 258.25M238.03 257.77L239.50 258.25M240.48 259.21L240.97 260.65M240.97 261.61L240.48 263.06M235.08 264.02L236.56 264.50M239.50 264.02L238.03 264.50M236.56 257.77L238.03 257.77M236.56 264.50L238.03 264.50M239.50 258.25L240.48 259.21M240.48 263.06L239.50 264.02M234.10 262.58L234.59 263.54M240.97 260.65L240.97 261.61M235.08 258.25L234.59 258.73M234.59 263.54L235.08 264.02M244.41 254.40L251.29 264.50M244.41 254.40L244.41 264.50M251.29 254.40L251.29 264.50M213.48 321.80L213.48 331.90M213.48 321.80L212.01 323.24M212.01 323.24L211.02 323.72M219.86 323.72L219.37 326.13M225.75 323.72L226.25 326.13M219.37 327.57L219.86 329.98M226.25 327.57L225.75 329.98M220.84 322.28L219.86 323.72M224.77 322.28L225.75 323.72M219.86 329.98L220.84 331.42M225.75 329.98L224.77 331.42M222.32 321.80L220.84 322.28M223.30 321.80L224.77 322.28M220.84 331.42L222.32 331.90M224.77 331.42L223.30 331.90M219.37 326.13L219.37 327.57M226.25 326.13L226.25 327.57M222.32 321.80L223.30 321.80M222.32 331.90L223.30 331.90M230.17 330.94L229.68 331.42M230.17 330.94L230.66 331.42M229.68 331.42L230.17 331.90M230.66 331.42L230.17 331.90M239.01 327.09L234.10 331.90M234.10 331.90L240.97 331.90M236.56 321.80L238.52 321.80M239.99 325.65L239.01 327.09M236.56 321.80L235.57 322.28M238.52 321.80L239.50 322.28M235.08 322.76L234.59 323.72M239.99 322.76L240.48 323.72M240.48 324.69L239.99 325.65M240.48 323.72L240.48 324.69M235.57 322.28L235.08 322.76M239.50 322.28L239.99 322.76M234.59 323.72L234.59 324.20M244.41 321.80L251.29 331.90M244.41 321.80L244.41 331.90M251.29 321.80L251.29 331.90M225.75 394.97L225.26 397.38M225.75 392.57L225.75 394.97M225.26 390.64L225.75 392.57M225.26 397.38L224.28 398.82M222.32 389.20L220.84 389.68M222.81 389.20L224.28 389.68M219.86 390.64L219.37 392.09M219.37 392.57L219.86 394.01M225.75 392.57L225.26 394.01M220.84 394.97L222.32 395.45M224.28 394.97L222.81 395.45M220.35 398.82L221.83 399.30M224.28 398.82L222.81 399.30M220.84 389.68L219.86 390.64M224.28 389.68L225.26 390.64M219.86 394.01L220.84 394.97M225.26 394.01L224.28 394.97M219.86 397.86L220.35 398.82M221.83 399.30L222.81 399.30M222.32 389.20L222.81 389.20M219.37 392.09L219.37 392.57M222.32 395.45L222.81 395.45M230.17 398.34L229.68 398.82M230.17 398.34L230.66 398.82M229.68 398.82L230.17 399.30M230.66 398.82L230.17 399.30M240.48 394.97L239.99 397.38M240.48 392.57L240.48 394.97M239.99 390.64L240.48 392.57M239.99 397.38L239.01 398.82M237.05 389.20L235.57 389.68M237.54 389.20L239.01 389.68M234.59 390.64L234.10 392.09M234.10 392.57L234.59 394.01M240.48 392.57L239.99 394.01M235.57 394.97L237.05 395.45M239.01 394.97L237.54 395.45M235.08 398.82L236.56 399.30M239.01 398.82L237.54 399.30M235.57 389.68L234.59 390.64M239.01 389.68L239.99 390.64M234.59 394.01L235.57 394.97M239.99 394.01L239.01 394.97M234.59 397.86L235.08 398.82M236.56 399.30L237.54 399.30M237.05 389.20L237.54 389.20M234.10 392.09L234.10 392.57M237.05 395.45L237.54 395.45M244.41 389.20L251.29 399.30M244.41 389.20L244.41 399.30M251.29 389.20L251.29 399.30M225.75 462.37L225.26 464.78M225.75 459.97L225.75 462.37M225.26 458.04L225.75 459.97M225.26 464.78L224.28 466.22M222.32 456.60L220.84 457.08M222.81 456.60L224.28 457.08M219.86 458.04L219.37 459.49M219.37 459.97L219.86 461.41M225.75 459.97L225.26 461.41M220.84 462.37L222.32 462.85M224.28 462.37L222.81 462.85M220.35 466.22L221.83 466.70M224.28 466.22L222.81 466.70M220.84 457.08L219.86 458.04M224.28 457.08L225.26 458.04M219.86 461.41L220.84 462.37M225.26 461.41L224.28 462.37M219.86 465.26L220.35 466.22M221.83 466.70L222.81 466.70M222.32 456.60L222.81 456.60M219.37 459.49L219.37 459.97M222.32 462.85L222.81 462.85M230.17 465.74L229.68 466.22M230.17 465.74L230.66 466.22M229.68 466.22L230.17 466.70M230.66 466.22L230.17 466.70M235.08 458.52L234.59 460.93M234.59 460.93L234.59 463.33M234.59 463.33L235.08 465.26M236.06 457.08L235.08 458.52M237.54 456.60L236.06 457.08M238.52 456.60L239.99 457.08M237.54 460.45L236.06 460.93M238.03 460.45L239.50 460.93M235.08 461.89L234.59 463.33M240.48 461.89L240.97 463.33M240.97 463.81L240.48 465.26M236.06 466.22L237.54 466.70M239.50 466.22L238.03 466.70M236.06 460.93L235.08 461.89M239.50 460.93L240.48 461.89M235.08 465.26L236.06 466.22M240.48 465.26L239.50 466.22M239.99 457.08L240.48 458.04M237.54 456.60L238.52 456.60M237.54 460.45L238.03 460.45M240.97 463.33L240.97 463.81M237.54 466.70L238.03 466.70M244.41 456.60L251.29 466.70M244.41 456.60L244.41 466.70M251.29 456.60L251.29 466.70M225.75 529.77L225.26 532.18M225.75 527.37L225.75 529.77M225.26 525.44L225.75 527.37M225.26 532.18L224.28 533.62M222.32 524.00L220.84 524.48M222.81 524.00L224.28 524.48M219.86 525.44L219.37 526.89M219.37 527.37L219.86 528.81M225.75 527.37L225.26 528.81M220.84 529.77L222.32 530.25M224.28 529.77L222.81 530.25M220.35 533.62L221.83 534.10M224.28 533.62L222.81 534.10M220.84 524.48L219.86 525.44M224.28 524.48L225.26 525.44M219.86 528.81L220.84 529.77M225.26 528.81L224.28 529.77M219.86 532.66L220.35 533.62M221.83 534.10L222.81 534.10M222.32 524.00L222.81 524.00M219.37 526.89L219.37 527.37M222.32 530.25L222.81 530.25M230.17 533.14L229.68 533.62M230.17 533.14L230.66 533.62M229.68 533.62L230.17 534.10M230.66 533.62L230.17 534.10M235.08 524.00L240.48 524.00M240.48 524.00L237.54 527.85M240.48 528.81L240.97 530.25M240.97 531.21L240.48 532.66M235.08 533.62L236.56 534.10M239.50 533.62L238.03 534.10M237.54 527.85L239.01 527.85M236.56 534.10L238.03 534.10M240.48 532.66L239.50 533.62M239.01 527.85L239.99 528.33M234.10 532.18L234.59 533.14M240.97 530.25L240.97 531.21M239.99 528.33L240.48 528.81M234.59 533.14L235.08 533.62M244.41 524.00L251.29 534.10M244.41 524.00L244.41 534.10M251.29 524.00L251.29 534.10M240.48 597.17L239.99 599.58M240.48 594.77L240.48 597.17M239.99 592.84L240.48 594.77M239.99 599.58L239.01 601.02M237.05 591.40L235.57 591.88M237.54 591.40L239.01 591.88M234.59 592.84L234.10 594.29M234.10 594.77L234.59 596.21M240.48 594.77L239.99 596.21M235.57 597.17L237.05 597.65M239.01 597.17L237.54 597.65M235.08 601.02L236.56 601.50M239.01 601.02L237.54 601.50M235.57 591.88L234.59 592.84M239.01 591.88L239.99 592.84M234.59 596.21L235.57 597.17M239.99 596.21L239.01 597.17M234.59 600.06L235.08 601.02M236.56 601.50L237.54 601.50M237.05 591.40L237.54 591.40M234.10 594.29L234.10 594.77M237.05 597.65L237.54 597.65M244.41 591.40L251.29 601.50M244.41 591.40L244.41 601.50M251.29 591.40L251.29 601.50M221.34 662.65L223.30 663.13M224.28 662.65L222.32 663.13M221.83 658.80L223.79 658.80M221.83 668.90L223.79 668.90M221.83 658.80L220.35 659.28M223.79 658.80L225.26 659.28M222.32 663.13L220.84 663.61M223.30 663.13L224.77 663.61M220.35 668.42L221.83 668.90M225.26 668.42L223.79 668.90M219.37 665.53L219.37 666.98M226.25 665.53L226.25 666.98M220.84 663.61L219.86 664.57M224.77 663.61L225.75 664.57M220.35 659.28L219.86 660.24M225.26 659.28L225.75 660.24M219.86 661.20L220.35 662.17M225.75 661.20L225.26 662.17M220.35 662.17L221.34 662.65M225.26 662.17L224.28 662.65M219.86 664.57L219.37 665.53M225.75 664.57L226.25 665.53M219.37 666.98L219.86 667.94M226.25 666.98L225.75 667.94M219.86 660.24L219.86 661.20M225.75 660.24L225.75 661.20M219.86 667.94L220.35 668.42M225.75 667.94L225.26 668.42M230.17 667.94L229.68 668.42M230.17 667.94L230.66 668.42M229.68 668.42L230.17 668.90M230.66 668.42L230.17 668.90M240.97 658.80L236.06 668.90M234.10 658.80L240.97 658.80M244.41 658.80L251.29 668.90M244.41 658.80L244.41 668.90M251.29 658.80L251.29 668.90M221.34 730.05L223.30 730.53M224.28 730.05L222.32 730.53M221.83 726.20L223.79 726.20M221.83 736.30L223.79 736.30M221.83 726.20L220.35 726.68M223.79 726.20L225.26 726.68M222.32 730.53L220.84 731.01M223.30 730.53L224.77 731.01M220.35 735.82L221.83 736.30M225.26 735.82L223.79 736.30M219.37 732.93L219.37 734.38M226.25 732.93L226.25 734.38M220.84 731.01L219.86 731.97M224.77 731.01L225.75 731.97M220.35 726.68L219.86 727.64M225.26 726.68L225.75 727.64M219.86 728.60L220.35 729.57M225.75 728.60L225.26 729.57M220.35 729.57L221.34 730.05M225.26 729.57L224.28 730.05M219.86 731.97L219.37 732.93M225.75 731.97L226.25 732.93M219.37 734.38L219.86 735.34M226.25 734.38L225.75 735.34M219.86 727.64L219.86 728.60M225.75 727.64L225.75 728.60M219.86 735.34L220.35 735.82M225.75 735.34L225.26 735.82M230.17 735.34L229.68 735.82M230.17 735.34L230.66 735.82M229.68 735.82L230.17 736.30M230.66 735.82L230.17 736.30M239.01 726.20L239.01 736.30M239.01 726.20L234.10 732.93M234.10 732.93L241.47 732.93M244.41 726.20L251.29 736.30M244.41 726.20L244.41 736.30M251.29 726.20L251.29 736.30M221.34 797.45L223.30 797.93M224.28 797.45L222.32 797.93M221.83 793.60L223.79 793.60M221.83 803.70L223.79 803.70M221.83 793.60L220.35 794.08M223.79 793.60L225.26 794.08M222.32 797.93L220.84 798.41M223.30 797.93L224.77 798.41M220.35 803.22L221.83 803.70M225.26 803.22L223.79 803.70M219.37 800.33L219.37 801.78M226.25 800.33L226.25 801.78M220.84 798.41L219.86 799.37M224.77 798.41L225.75 799.37M220.35 794.08L219.86 795.04M225.26 794.08L225.75 795.04M219.86 796.00L220.35 796.97M225.75 796.00L225.26 796.97M220.35 796.97L221.34 797.45M225.26 796.97L224.28 797.45M219.86 799.37L219.37 800.33M225.75 799.37L226.25 800.33M219.37 801.78L219.86 802.74M226.25 801.78L225.75 802.74M219.86 795.04L219.86 796.00M225.75 795.04L225.75 796.00M219.86 802.74L220.35 803.22M225.75 802.74L225.26 803.22M230.17 802.74L229.68 803.22M230.17 802.74L230.66 803.22M229.68 803.22L230.17 803.70M230.66 803.22L230.17 803.70M238.03 793.60L238.03 803.70M238.03 793.60L236.56 795.04M236.56 795.04L235.57 795.52M244.41 793.60L251.29 803.70M244.41 793.60L244.41 803.70M251.29 793.60L251.29 803.70M281.90 833.21L283.81 833.74M284.76 833.21L282.86 833.74M282.38 828.90L284.29 828.90M282.38 840.20L284.29 840.20M282.38 828.90L280.94 829.44M284.29 828.90L285.72 829.44M282.86 833.74L281.42 834.28M283.81 833.74L285.24 834.28M280.94 839.66L282.38 840.20M285.72 839.66L284.29 840.20M279.99 836.43L279.99 838.05M286.68 836.43L286.68 838.05M281.42 834.28L280.47 835.36M285.24 834.28L286.20 835.36M280.94 829.44L280.47 830.52M285.72 829.44L286.20 830.52M280.47 831.59L280.94 832.67M286.20 831.59L285.72 832.67M280.94 832.67L281.90 833.21M285.72 832.67L284.76 833.21M280.47 835.36L279.99 836.43M286.20 835.36L286.68 836.43M279.99 838.05L280.47 839.12M286.68 838.05L286.20 839.12M280.47 830.52L280.47 831.59M286.20 830.52L286.20 831.59M280.47 839.12L280.94 839.66M286.20 839.12L285.72 839.66M290.50 828.90L295.27 828.90M290.50 828.90L290.02 833.74M291.93 832.67L290.50 833.21M293.36 832.67L294.79 833.21M295.75 834.28L296.23 835.90M296.23 836.97L295.75 838.59M290.50 839.66L291.93 840.20M294.79 839.66L293.36 840.20M291.93 832.67L293.36 832.67M291.93 840.20L293.36 840.20M294.79 833.21L295.75 834.28M295.75 838.59L294.79 839.66M289.54 838.05L290.02 839.12M296.23 835.90L296.23 836.97M290.50 833.21L290.02 833.74M290.02 839.12L290.50 839.66M300.05 839.12L299.57 839.66M300.05 839.12L300.52 839.66M299.57 839.66L300.05 840.20M300.52 839.66L300.05 840.20M305.77 833.21L307.69 833.74M308.64 833.21L306.73 833.74M306.25 828.90L308.16 828.90M306.25 840.20L308.16 840.20M306.25 828.90L304.82 829.44M308.16 828.90L309.60 829.44M306.73 833.74L305.30 834.28M307.69 833.74L309.12 834.28M304.82 839.66L306.25 840.20M309.60 839.66L308.16 840.20M303.87 836.43L303.87 838.05M310.55 836.43L310.55 838.05M305.30 834.28L304.34 835.36M309.12 834.28L310.07 835.36M304.82 829.44L304.34 830.52M309.60 829.44L310.07 830.52M304.34 831.59L304.82 832.67M310.07 831.59L309.60 832.67M304.82 832.67L305.77 833.21M309.60 832.67L308.64 833.21M304.34 835.36L303.87 836.43M310.07 835.36L310.55 836.43M303.87 838.05L304.34 839.12M310.55 838.05L310.07 839.12M304.34 830.52L304.34 831.59M310.07 830.52L310.07 831.59M304.34 839.12L304.82 839.66M310.07 839.12L309.60 839.66M312.94 828.90L315.32 840.20M317.71 828.90L315.32 840.20M317.71 828.90L320.10 840.20M322.49 828.90L320.10 840.20M339.75 833.21L341.66 833.74M342.62 833.21L340.71 833.74M340.23 828.90L342.14 828.90M340.23 840.20L342.14 840.20M340.23 828.90L338.80 829.44M342.14 828.90L343.57 829.44M340.71 833.74L339.27 834.28M341.66 833.74L343.09 834.28M338.80 839.66L340.23 840.20M343.57 839.66L342.14 840.20M337.84 836.43L337.84 838.05M344.53 836.43L344.53 838.05M339.27 834.28L338.32 835.36M343.09 834.28L344.05 835.36M338.80 829.44L338.32 830.52M343.57 829.44L344.05 830.52M338.32 831.59L338.80 832.67M344.05 831.59L343.57 832.67M338.80 832.67L339.75 833.21M343.57 832.67L342.62 833.21M338.32 835.36L337.84 836.43M344.05 835.36L344.53 836.43M337.84 838.05L338.32 839.12M344.53 838.05L344.05 839.12M338.32 830.52L338.32 831.59M344.05 830.52L344.05 831.59M338.32 839.12L338.80 839.66M344.05 839.12L343.57 839.66M348.35 828.90L353.12 828.90M348.35 828.90L347.87 833.74M349.78 832.67L348.35 833.21M351.21 832.67L352.64 833.21M353.60 834.28L354.08 835.90M354.08 836.97L353.60 838.59M348.35 839.66L349.78 840.20M352.64 839.66L351.21 840.20M349.78 832.67L351.21 832.67M349.78 840.20L351.21 840.20M352.64 833.21L353.60 834.28M353.60 838.59L352.64 839.66M347.39 838.05L347.87 839.12M354.08 835.90L354.08 836.97M348.35 833.21L347.87 833.74M347.87 839.12L348.35 839.66M357.90 839.12L357.42 839.66M357.90 839.12L358.37 839.66M357.42 839.66L357.90 840.20M358.37 839.66L357.90 840.20M362.67 828.90L367.45 828.90M362.67 828.90L362.19 833.74M364.10 832.67L362.67 833.21M365.54 832.67L366.97 833.21M367.92 834.28L368.40 835.90M368.40 836.97L367.92 838.59M362.67 839.66L364.10 840.20M366.97 839.66L365.54 840.20M364.10 832.67L365.54 832.67M364.10 840.20L365.54 840.20M366.97 833.21L367.92 834.28M367.92 838.59L366.97 839.66M361.72 838.05L362.19 839.12M368.40 835.90L368.40 836.97M362.67 833.21L362.19 833.74M362.19 839.12L362.67 839.66M370.79 828.90L373.18 840.20M375.56 828.90L373.18 840.20M375.56 828.90L377.95 840.20M380.34 828.90L377.95 840.20M397.60 833.21L399.51 833.74M400.46 833.21L398.56 833.74M398.08 828.90L399.99 828.90M398.08 840.20L399.99 840.20M398.08 828.90L396.64 829.44M399.99 828.90L401.42 829.44M398.56 833.74L397.12 834.28M399.51 833.74L400.94 834.28M396.64 839.66L398.08 840.20M401.42 839.66L399.99 840.20M395.69 836.43L395.69 838.05M402.38 836.43L402.38 838.05M397.12 834.28L396.17 835.36M400.94 834.28L401.90 835.36M396.64 829.44L396.17 830.52M401.42 829.44L401.90 830.52M396.17 831.59L396.64 832.67M401.90 831.59L401.42 832.67M396.64 832.67L397.60 833.21M401.42 832.67L400.46 833.21M396.17 835.36L395.69 836.43M401.90 835.36L402.38 836.43M395.69 838.05L396.17 839.12M402.38 838.05L401.90 839.12M396.17 830.52L396.17 831.59M401.90 830.52L401.90 831.59M396.17 839.12L396.64 839.66M401.90 839.12L401.42 839.66M406.19 828.90L410.97 828.90M406.19 828.90L405.72 833.74M407.63 832.67L406.19 833.21M409.06 832.67L410.49 833.21M411.45 834.28L411.93 835.90M411.93 836.97L411.45 838.59M406.19 839.66L407.63 840.20M410.49 839.66L409.06 840.20M407.63 832.67L409.06 832.67M407.63 840.20L409.06 840.20M410.49 833.21L411.45 834.28M411.45 838.59L410.49 839.66M405.24 838.05L405.72 839.12M411.93 835.90L411.93 836.97M406.19 833.21L405.72 833.74M405.72 839.12L406.19 839.66M415.75 839.12L415.27 839.66M415.75 839.12L416.22 839.66M415.27 839.66L415.75 840.20M416.22 839.66L415.75 840.20M424.34 834.82L419.56 840.20M419.56 840.20L426.25 840.20M421.95 828.90L423.86 828.90M425.30 833.21L424.34 834.82M421.95 828.90L421.00 829.44M423.86 828.90L424.82 829.44M420.52 829.98L420.04 831.05M425.30 829.98L425.77 831.05M425.77 832.13L425.30 833.21M425.77 831.05L425.77 832.13M421.00 829.44L420.52 829.98M424.82 829.44L425.30 829.98M420.04 831.05L420.04 831.59M428.64 828.90L431.02 840.20M433.41 828.90L431.02 840.20M433.41 828.90L435.80 840.20M438.19 828.90L435.80 840.20M455.45 833.21L457.36 833.74M458.31 833.21L456.41 833.74M455.93 828.90L457.84 828.90M455.93 840.20L457.84 840.20M455.93 828.90L454.50 829.44M457.84 828.90L459.27 829.44M456.41 833.74L454.97 834.28M457.36 833.74L458.79 834.28M454.50 839.66L455.93 840.20M459.27 839.66L457.84 840.20M453.54 836.43L453.54 838.05M460.23 836.43L460.23 838.05M454.97 834.28L454.02 835.36M458.79 834.28L459.75 835.36M454.50 829.44L454.02 830.52M459.27 829.44L459.75 830.52M454.02 831.59L454.50 832.67M459.75 831.59L459.27 832.67M454.50 832.67L455.45 833.21M459.27 832.67L458.31 833.21M454.02 835.36L453.54 836.43M459.75 835.36L460.23 836.43M453.54 838.05L454.02 839.12M460.23 838.05L459.75 839.12M454.02 830.52L454.02 831.59M459.75 830.52L459.75 831.59M454.02 839.12L454.50 839.66M459.75 839.12L459.27 839.66M467.87 828.90L467.87 840.20M467.87 828.90L463.09 836.43M463.09 836.43L470.25 836.43M473.60 839.12L473.12 839.66M473.60 839.12L474.07 839.66M473.12 839.66L473.60 840.20M474.07 839.66L473.60 840.20M483.62 835.36L483.15 838.05M483.62 832.67L483.62 835.36M483.15 830.52L483.62 832.67M483.15 838.05L482.19 839.66M480.28 828.90L478.85 829.44M480.76 828.90L482.19 829.44M477.89 830.52L477.42 832.13M477.42 832.67L477.89 834.28M483.62 832.67L483.15 834.28M478.85 835.36L480.28 835.90M482.19 835.36L480.76 835.90M478.37 839.66L479.80 840.20M482.19 839.66L480.76 840.20M478.85 829.44L477.89 830.52M482.19 829.44L483.15 830.52M477.89 834.28L478.85 835.36M483.15 834.28L482.19 835.36M477.89 838.59L478.37 839.66M479.80 840.20L480.76 840.20M480.28 828.90L480.76 828.90M477.42 832.13L477.42 832.67M480.28 835.90L480.76 835.90M486.49 828.90L488.88 840.20M491.26 828.90L488.88 840.20M491.26 828.90L493.65 840.20M496.04 828.90L493.65 840.20M513.30 833.21L515.21 833.74M516.16 833.21L514.25 833.74M513.78 828.90L515.69 828.90M513.78 840.20L515.69 840.20M513.78 828.90L512.35 829.44M515.69 828.90L517.12 829.44M514.25 833.74L512.82 834.28M515.21 833.74L516.64 834.28M512.35 839.66L513.78 840.20M517.12 839.66L515.69 840.20M511.39 836.43L511.39 838.05M518.07 836.43L518.07 838.05M512.82 834.28L511.87 835.36M516.64 834.28L517.60 835.36M512.35 829.44L511.87 830.52M517.12 829.44L517.60 830.52M511.87 831.59L512.35 832.67M517.60 831.59L517.12 832.67M512.35 832.67L513.30 833.21M517.12 832.67L516.16 833.21M511.87 835.36L511.39 836.43M517.60 835.36L518.07 836.43M511.39 838.05L511.87 839.12M518.07 838.05L517.60 839.12M511.87 830.52L511.87 831.59M517.60 830.52L517.60 831.59M511.87 839.12L512.35 839.66M517.60 839.12L517.12 839.66M525.71 828.90L525.71 840.20M525.71 828.90L520.94 836.43M520.94 836.43L528.10 836.43M531.44 839.12L530.97 839.66M531.44 839.12L531.92 839.66M530.97 839.66L531.44 840.20M531.92 839.66L531.44 840.20M536.22 831.05L535.74 833.74M535.74 833.74L535.74 836.43M535.74 836.43L536.22 838.59M537.17 829.44L536.22 831.05M538.61 828.90L537.17 829.44M539.56 828.90L540.99 829.44M538.61 833.21L537.17 833.74M539.08 833.21L540.52 833.74M536.22 834.82L535.74 836.43M541.47 834.82L541.95 836.43M541.95 836.97L541.47 838.59M537.17 839.66L538.61 840.20M540.52 839.66L539.08 840.20M537.17 833.74L536.22 834.82M540.52 833.74L541.47 834.82M536.22 838.59L537.17 839.66M541.47 838.59L540.52 839.66M540.99 829.44L541.47 830.52M538.61 828.90L539.56 828.90M538.61 833.21L539.08 833.21M541.95 836.43L541.95 836.97M538.61 840.20L539.08 840.20M544.34 828.90L546.72 840.20M549.11 828.90L546.72 840.20M549.11 828.90L551.50 840.20M553.89 828.90L551.50 840.20M571.15 833.21L573.06 833.74M574.01 833.21L572.11 833.74M571.63 828.90L573.54 828.90M571.63 840.20L573.54 840.20M571.63 828.90L570.20 829.44M573.54 828.90L574.97 829.44M572.11 833.74L570.67 834.28M573.06 833.74L574.49 834.28M570.20 839.66L571.63 840.20M574.97 839.66L573.54 840.20M569.24 836.43L569.24 838.05M575.92 836.43L575.92 838.05M570.67 834.28L569.72 835.36M574.49 834.28L575.45 835.36M570.20 829.44L569.72 830.52M574.97 829.44L575.45 830.52M569.72 831.59L570.20 832.67M575.45 831.59L574.97 832.67M570.20 832.67L571.15 833.21M574.97 832.67L574.01 833.21M569.72 835.36L569.24 836.43M575.45 835.36L575.92 836.43M569.24 838.05L569.72 839.12M575.92 838.05L575.45 839.12M569.72 830.52L569.72 831.59M575.45 830.52L575.45 831.59M569.72 839.12L570.20 839.66M575.45 839.12L574.97 839.66M583.56 828.90L583.56 840.20M583.56 828.90L578.79 836.43M578.79 836.43L585.95 836.43M589.29 839.12L588.82 839.66M589.29 839.12L589.77 839.66M588.82 839.66L589.29 840.20M589.77 839.66L589.29 840.20M594.07 828.90L599.32 828.90M599.32 828.90L596.46 833.21M599.32 834.28L599.80 835.90M599.80 836.97L599.32 838.59M594.07 839.66L595.50 840.20M598.37 839.66L596.93 840.20M596.46 833.21L597.89 833.21M595.50 840.20L596.93 840.20M599.32 838.59L598.37 839.66M597.89 833.21L598.84 833.74M593.11 838.05L593.59 839.12M599.80 835.90L599.80 836.97M598.84 833.74L599.32 834.28M593.59 839.12L594.07 839.66M602.19 828.90L604.57 840.20M606.96 828.90L604.57 840.20M606.96 828.90L609.35 840.20M611.74 828.90L609.35 840.20M636.16 833.21L638.07 833.74M639.03 833.21L637.12 833.74M636.64 828.90L638.55 828.90M636.64 840.20L638.55 840.20M636.64 828.90L635.21 829.44M638.55 828.90L639.98 829.44M637.12 833.74L635.69 834.28M638.07 833.74L639.50 834.28M635.21 839.66L636.64 840.20M639.98 839.66L638.55 840.20M634.25 836.43L634.25 838.05M640.94 836.43L640.94 838.05M635.69 834.28L634.73 835.36M639.50 834.28L640.46 835.36M635.21 829.44L634.73 830.52M639.98 829.44L640.46 830.52M634.73 831.59L635.21 832.67M640.46 831.59L639.98 832.67M635.21 832.67L636.16 833.21M639.98 832.67L639.03 833.21M634.73 835.36L634.25 836.43M640.46 835.36L640.94 836.43M634.25 838.05L634.73 839.12M640.94 838.05L640.46 839.12M634.73 830.52L634.73 831.59M640.46 830.52L640.46 831.59M634.73 839.12L635.21 839.66M640.46 839.12L639.98 839.66M648.58 828.90L648.58 840.20M648.58 828.90L643.80 836.43M643.80 836.43L650.97 836.43M652.88 828.90L655.26 840.20M657.65 828.90L655.26 840.20M657.65 828.90L660.04 840.20M662.42 828.90L660.04 840.20M686.85 833.21L688.76 833.74M689.72 833.21L687.81 833.74M687.33 828.90L689.24 828.90M687.33 840.20L689.24 840.20M687.33 828.90L685.90 829.44M689.24 828.90L690.67 829.44M687.81 833.74L686.37 834.28M688.76 833.74L690.19 834.28M685.90 839.66L687.33 840.20M690.67 839.66L689.24 840.20M684.94 836.43L684.94 838.05M691.62 836.43L691.62 838.05M686.37 834.28L685.42 835.36M690.19 834.28L691.15 835.36M685.90 829.44L685.42 830.52M690.67 829.44L691.15 830.52M685.42 831.59L685.90 832.67M691.15 831.59L690.67 832.67M685.90 832.67L686.85 833.21M690.67 832.67L689.72 833.21M685.42 835.36L684.94 836.43M691.15 835.36L691.62 836.43M684.94 838.05L685.42 839.12M691.62 838.05L691.15 839.12M685.42 830.52L685.42 831.59M691.15 830.52L691.15 831.59M685.42 839.12L685.90 839.66M691.15 839.12L690.67 839.66M695.45 828.90L700.70 828.90M700.70 828.90L697.83 833.21M700.70 834.28L701.17 835.90M701.17 836.97L700.70 838.59M695.45 839.66L696.88 840.20M699.74 839.66L698.31 840.20M697.83 833.21L699.26 833.21M696.88 840.20L698.31 840.20M700.70 838.59L699.74 839.66M699.26 833.21L700.22 833.74M694.49 838.05L694.97 839.12M701.17 835.90L701.17 836.97M700.22 833.74L700.70 834.28M694.97 839.12L695.45 839.66M705.00 839.12L704.52 839.66M705.00 839.12L705.47 839.66M704.52 839.66L705.00 840.20M705.47 839.66L705.00 840.20M715.50 828.90L710.72 840.20M708.81 828.90L715.50 828.90M717.89 828.90L720.27 840.20M722.66 828.90L720.27 840.20M722.66 828.90L725.05 840.20M727.44 828.90L725.05 840.20M744.70 833.21L746.61 833.74M747.56 833.21L745.65 833.74M745.18 828.90L747.09 828.90M745.18 840.20L747.09 840.20M745.18 828.90L743.75 829.44M747.09 828.90L748.52 829.44M745.65 833.74L744.22 834.28M746.61 833.74L748.04 834.28M743.75 839.66L745.18 840.20M748.52 839.66L747.09 840.20M742.79 836.43L742.79 838.05M749.47 836.43L749.47 838.05M744.22 834.28L743.27 835.36M748.04 834.28L749.00 835.36M743.75 829.44L743.27 830.52M748.52 829.44L749.00 830.52M743.27 831.59L743.75 832.67M749.00 831.59L748.52 832.67M743.75 832.67L744.70 833.21M748.52 832.67L747.56 833.21M743.27 835.36L742.79 836.43M749.00 835.36L749.47 836.43M742.79 838.05L743.27 839.12M749.47 838.05L749.00 839.12M743.27 830.52L743.27 831.59M749.00 830.52L749.00 831.59M743.27 839.12L743.75 839.66M749.00 839.12L748.52 839.66M753.29 828.90L758.55 828.90M758.55 828.90L755.68 833.21M758.55 834.28L759.02 835.90M759.02 836.97L758.55 838.59M753.29 839.66L754.73 840.20M757.59 839.66L756.16 840.20M755.68 833.21L757.11 833.21M754.73 840.20L756.16 840.20M758.55 838.59L757.59 839.66M757.11 833.21L758.07 833.74M752.34 838.05L752.82 839.12M759.02 835.90L759.02 836.97M758.07 833.74L758.55 834.28M752.82 839.12L753.29 839.66M762.84 839.12L762.37 839.66M762.84 839.12L763.32 839.66M762.37 839.66L762.84 840.20M763.32 839.66L762.84 840.20M771.44 828.90L771.44 840.20M771.44 828.90L766.66 836.43M766.66 836.43L773.83 836.43M775.74 828.90L778.12 840.20M780.51 828.90L778.12 840.20M780.51 828.90L782.90 840.20M785.29 828.90L782.90 840.20M802.55 833.21L804.46 833.74M805.41 833.21L803.50 833.74M803.03 828.90L804.94 828.90M803.03 840.20L804.94 840.20M803.03 828.90L801.60 829.44M804.94 828.90L806.37 829.44M803.50 833.74L802.07 834.28M804.46 833.74L805.89 834.28M801.60 839.66L803.03 840.20M806.37 839.66L804.94 840.20M800.64 836.43L800.64 838.05M807.32 836.43L807.32 838.05M802.07 834.28L801.12 835.36M805.89 834.28L806.85 835.36M801.60 829.44L801.12 830.52M806.37 829.44L806.85 830.52M801.12 831.59L801.60 832.67M806.85 831.59L806.37 832.67M801.60 832.67L802.55 833.21M806.37 832.67L805.41 833.21M801.12 835.36L800.64 836.43M806.85 835.36L807.32 836.43M800.64 838.05L801.12 839.12M807.32 838.05L806.85 839.12M801.12 830.52L801.12 831.59M806.85 830.52L806.85 831.59M801.12 839.12L801.60 839.66M806.85 839.12L806.37 839.66M811.14 828.90L816.40 828.90M816.40 828.90L813.53 833.21M816.40 834.28L816.87 835.90M816.87 836.97L816.40 838.59M811.14 839.66L812.58 840.20M815.44 839.66L814.01 840.20M813.53 833.21L814.96 833.21M812.58 840.20L814.01 840.20M816.40 838.59L815.44 839.66M814.96 833.21L815.92 833.74M810.19 838.05L810.67 839.12M816.87 835.90L816.87 836.97M815.92 833.74L816.40 834.28M810.67 839.12L811.14 839.66M820.69 839.12L820.22 839.66M820.69 839.12L821.17 839.66M820.22 839.66L820.69 840.20M821.17 839.66L820.69 840.20M828.33 828.90L828.33 840.20M828.33 828.90L826.90 830.52M826.90 830.52L825.95 831.05M833.59 828.90L835.97 840.20M838.36 828.90L835.97 840.20M838.36 828.90L840.75 840.20M843.14 828.90L840.75 840.20M860.40 833.21L862.31 833.74M863.26 833.21L861.36 833.74M860.88 828.90L862.79 828.90M860.88 840.20L862.79 840.20M860.88 828.90L859.45 829.44M862.79 828.90L864.22 829.44M861.36 833.74L859.92 834.28M862.31 833.74L863.74 834.28M859.45 839.66L860.88 840.20M864.22 839.66L862.79 840.20M858.49 836.43L858.49 838.05M865.17 836.43L865.17 838.05M859.92 834.28L858.97 835.36M863.74 834.28L864.70 835.36M859.45 829.44L858.97 830.52M864.22 829.44L864.70 830.52M858.97 831.59L859.45 832.67M864.70 831.59L864.22 832.67M859.45 832.67L860.40 833.21M864.22 832.67L863.26 833.21M858.97 835.36L858.49 836.43M864.70 835.36L865.17 836.43M858.49 838.05L858.97 839.12M865.17 838.05L864.70 839.12M858.97 830.52L858.97 831.59M864.70 830.52L864.70 831.59M858.97 839.12L859.45 839.66M864.70 839.12L864.22 839.66M872.81 834.82L868.04 840.20M868.04 840.20L874.72 840.20M870.43 828.90L872.34 828.90M873.77 833.21L872.81 834.82M870.43 828.90L869.47 829.44M872.34 828.90L873.29 829.44M869.00 829.98L868.52 831.05M873.77 829.98L874.25 831.05M874.25 832.13L873.77 833.21M874.25 831.05L874.25 832.13M869.47 829.44L869.00 829.98M873.29 829.44L873.77 829.98M868.52 831.05L868.52 831.59M878.54 839.12L878.07 839.66M878.54 839.12L879.02 839.66M878.07 839.66L878.54 840.20M879.02 839.66L878.54 840.20M884.27 833.21L886.18 833.74M887.14 833.21L885.23 833.74M884.75 828.90L886.66 828.90M884.75 840.20L886.66 840.20M884.75 828.90L883.32 829.44M886.66 828.90L888.09 829.44M885.23 833.74L883.80 834.28M886.18 833.74L887.62 834.28M883.32 839.66L884.75 840.20M888.09 839.66L886.66 840.20M882.36 836.43L882.36 838.05M889.05 836.43L889.05 838.05M883.80 834.28L882.84 835.36M887.62 834.28L888.57 835.36M883.32 829.44L882.84 830.52M888.09 829.44L888.57 830.52M882.84 831.59L883.32 832.67M888.57 831.59L888.09 832.67M883.32 832.67L884.27 833.21M888.09 832.67L887.14 833.21M882.84 835.36L882.36 836.43M888.57 835.36L889.05 836.43M882.36 838.05L882.84 839.12M889.05 838.05L888.57 839.12M882.84 830.52L882.84 831.59M888.57 830.52L888.57 831.59M882.84 839.12L883.32 839.66M888.57 839.12L888.09 839.66M891.44 828.90L893.82 840.20M896.21 828.90L893.82 840.20M896.21 828.90L898.60 840.20M900.99 828.90L898.60 840.20" fill="none" stroke="#000" stroke-width="1.25" stroke-linecap="round" stroke-linejoin="round"/>
<rect x="1057.8" y="725.43" width="21.80" height="42.37" fill="#66FFFF" stroke="#000" stroke-width="1.2"/>
<rect x="1057.8" y="683.06" width="21.80" height="42.37" fill="#3399FF" stroke="#000" stroke-width="1.2"/>
<rect x="1057.8" y="640.69" width="21.80" height="42.37" fill="#0000FF" stroke="#000" stroke-width="1.2"/>
<rect x="1057.8" y="598.32" width="21.80" height="42.37" fill="#00FF00" stroke="#000" stroke-width="1.2"/>
<rect x="1057.8" y="555.95" width="21.80" height="42.37" fill="#00CC00" stroke="#000" stroke-width="1.2"/>
<rect x="1057.8" y="513.58" width="21.80" height="42.37" fill="#009900" stroke="#000" stroke-width="1.2"/>
<rect x="1057.8" y="471.21" width="21.80" height="42.37" fill="#FFFF00" stroke="#000" stroke-width="1.2"/>
<rect x="1057.8" y="428.84" width="21.80" height="42.37" fill="#FFCC00" stroke="#000" stroke-width="1.2"/>
<rect x="1057.8" y="386.47" width="21.80" height="42.37" fill="#FF6600" stroke="#000" stroke-width="1.2"/>
<rect x="1057.8" y="344.10" width="21.80" height="42.37" fill="#FF0000" stroke="#000" stroke-width="1.2"/>
<rect x="1057.8" y="301.73" width="21.80" height="42.37" fill="#CC3300" stroke="#000" stroke-width="1.2"/>
<rect x="1057.8" y="259.36" width="21.80" height="42.37" fill="#990000" stroke="#000" stroke-width="1.2"/>
<rect x="1057.8" y="216.99" width="21.80" height="42.37" fill="#FF00FF" stroke="#000" stroke-width="1.2"/>
<rect x="1057.8" y="174.62" width="21.80" height="42.37" fill="#9933CC" stroke="#000" stroke-width="1.2"/>
<rect x="1057.8" y="132.25" width="21.80" height="42.37" fill="#F5F5F5" stroke="#000" stroke-width="1.2"/>
<path d="M1057.8 132.25L1068.70 89.6L1079.6 132.25Z" fill="#A9A9A9" stroke="#000" stroke-width="1.2" stroke-linejoin="miter"/>
<path d="M1057.8 767.8L1068.70 810.4L1079.6 767.8Z" fill="#fff" stroke="#000" stroke-width="1.2" stroke-linejoin="miter"/>
<path d="M1088.68 761.29L1095.80 761.29M1095.80 761.29L1091.92 766.26M1095.80 767.51L1096.45 769.37M1096.45 770.62L1095.80 772.48M1088.68 773.73L1090.63 774.35M1094.51 773.73L1092.57 774.35M1091.92 766.26L1093.86 766.26M1090.63 774.35L1092.57 774.35M1095.80 772.48L1094.51 773.73M1093.86 766.26L1095.15 766.89M1087.39 771.86L1088.04 773.11M1096.45 769.37L1096.45 770.62M1095.15 766.89L1095.80 767.51M1088.04 773.11L1088.68 773.73M1101.62 773.11L1100.98 773.73M1101.62 773.11L1102.27 773.73M1100.98 773.73L1101.62 774.35M1102.27 773.73L1101.62 774.35M1108.10 761.29L1114.57 761.29M1108.10 761.29L1107.45 766.89M1110.04 765.64L1108.10 766.26M1111.98 765.64L1113.92 766.26M1115.21 767.51L1115.86 769.37M1115.86 770.62L1115.21 772.48M1108.10 773.73L1110.04 774.35M1113.92 773.73L1111.98 774.35M1110.04 765.64L1111.98 765.64M1110.04 774.35L1111.98 774.35M1113.92 766.26L1115.21 767.51M1115.21 772.48L1113.92 773.73M1106.80 771.86L1107.45 773.11M1115.86 769.37L1115.86 770.62M1108.10 766.26L1107.45 766.89M1107.45 773.11L1108.10 773.73M1096.45 718.92L1089.98 731.98M1087.39 718.92L1096.45 718.92M1092.57 676.55L1092.57 689.61M1092.57 676.55L1090.63 678.41M1090.63 678.41L1089.33 679.04M1106.80 683.39L1100.33 689.61M1100.33 689.61L1109.39 689.61M1103.57 676.55L1106.15 676.55M1108.10 681.52L1106.80 683.39M1103.57 676.55L1102.27 677.17M1106.15 676.55L1107.45 677.17M1101.62 677.79L1100.98 679.04M1108.10 677.79L1108.74 679.04M1108.74 680.28L1108.10 681.52M1108.74 679.04L1108.74 680.28M1102.27 677.17L1101.62 677.79M1107.45 677.17L1108.10 677.79M1100.98 679.04L1100.98 679.66M1114.57 688.37L1113.92 688.99M1114.57 688.37L1115.21 688.99M1113.92 688.99L1114.57 689.61M1115.21 688.99L1114.57 689.61M1121.04 676.55L1127.51 676.55M1121.04 676.55L1120.39 682.15M1122.98 680.90L1121.04 681.52M1124.92 680.90L1126.86 681.52M1128.15 682.77L1128.80 684.63M1128.80 685.88L1128.15 687.74M1121.04 688.99L1122.98 689.61M1126.86 688.99L1124.92 689.61M1122.98 680.90L1124.92 680.90M1122.98 689.61L1124.92 689.61M1126.86 681.52L1128.15 682.77M1128.15 687.74L1126.86 688.99M1119.74 687.12L1120.39 688.37M1128.80 684.63L1128.80 685.88M1121.04 681.52L1120.39 682.15M1120.39 688.37L1121.04 688.99M1092.57 634.18L1092.57 647.24M1092.57 634.18L1090.63 636.04M1090.63 636.04L1089.33 636.67M1101.62 634.18L1108.10 634.18M1101.62 634.18L1100.98 639.78M1103.57 638.53L1101.62 639.15M1105.51 638.53L1107.45 639.15M1108.74 640.40L1109.39 642.26M1109.39 643.51L1108.74 645.37M1101.62 646.62L1103.57 647.24M1107.45 646.62L1105.51 647.24M1103.57 638.53L1105.51 638.53M1103.57 647.24L1105.51 647.24M1107.45 639.15L1108.74 640.40M1108.74 645.37L1107.45 646.62M1100.33 644.75L1100.98 646.00M1109.39 642.26L1109.39 643.51M1101.62 639.15L1100.98 639.78M1100.98 646.00L1101.62 646.62M1093.86 598.65L1087.39 604.87M1087.39 604.87L1096.45 604.87M1090.63 591.81L1093.21 591.81M1095.15 596.78L1093.86 598.65M1090.63 591.81L1089.33 592.43M1093.21 591.81L1094.51 592.43M1088.68 593.05L1088.04 594.30M1095.15 593.05L1095.80 594.30M1095.80 595.54L1095.15 596.78M1095.80 594.30L1095.80 595.54M1089.33 592.43L1088.68 593.05M1094.51 592.43L1095.15 593.05M1088.04 594.30L1088.04 594.92M1100.98 594.30L1100.33 597.41M1108.74 594.30L1109.39 597.41M1100.33 599.27L1100.98 602.38M1109.39 599.27L1108.74 602.38M1102.27 592.43L1100.98 594.30M1107.45 592.43L1108.74 594.30M1100.98 602.38L1102.27 604.25M1108.74 602.38L1107.45 604.25M1104.21 591.81L1102.27 592.43M1105.51 591.81L1107.45 592.43M1102.27 604.25L1104.21 604.87M1107.45 604.25L1105.51 604.87M1100.33 597.41L1100.33 599.27M1109.39 597.41L1109.39 599.27M1104.21 591.81L1105.51 591.81M1104.21 604.87L1105.51 604.87M1093.86 556.28L1087.39 562.50M1087.39 562.50L1096.45 562.50M1090.63 549.44L1093.21 549.44M1095.15 554.41L1093.86 556.28M1090.63 549.44L1089.33 550.06M1093.21 549.44L1094.51 550.06M1088.68 550.68L1088.04 551.93M1095.15 550.68L1095.80 551.93M1095.80 553.17L1095.15 554.41M1095.80 551.93L1095.80 553.17M1089.33 550.06L1088.68 550.68M1094.51 550.06L1095.15 550.68M1088.04 551.93L1088.04 552.55M1101.62 549.44L1108.10 549.44M1101.62 549.44L1100.98 555.04M1103.57 553.79L1101.62 554.41M1105.51 553.79L1107.45 554.41M1108.74 555.66L1109.39 557.52M1109.39 558.77L1108.74 560.63M1101.62 561.88L1103.57 562.50M1107.45 561.88L1105.51 562.50M1103.57 553.79L1105.51 553.79M1103.57 562.50L1105.51 562.50M1107.45 554.41L1108.74 555.66M1108.74 560.63L1107.45 561.88M1100.33 560.01L1100.98 561.26M1109.39 557.52L1109.39 558.77M1101.62 554.41L1100.98 555.04M1100.98 561.26L1101.62 561.88M1088.68 507.07L1095.80 507.07M1095.80 507.07L1091.92 512.04M1095.80 513.29L1096.45 515.15M1096.45 516.40L1095.80 518.26M1088.68 519.51L1090.63 520.13M1094.51 519.51L1092.57 520.13M1091.92 512.04L1093.86 512.04M1090.63 520.13L1092.57 520.13M1095.80 518.26L1094.51 519.51M1093.86 512.04L1095.15 512.67M1087.39 517.64L1088.04 518.89M1096.45 515.15L1096.45 516.40M1095.15 512.67L1095.80 513.29M1088.04 518.89L1088.68 519.51M1100.98 509.56L1100.33 512.67M1108.74 509.56L1109.39 512.67M1100.33 514.53L1100.98 517.64M1109.39 514.53L1108.74 517.64M1102.27 507.69L1100.98 509.56M1107.45 507.69L1108.74 509.56M1100.98 517.64L1102.27 519.51M1108.74 517.64L1107.45 519.51M1104.21 507.07L1102.27 507.69M1105.51 507.07L1107.45 507.69M1102.27 519.51L1104.21 520.13M1107.45 519.51L1105.51 520.13M1100.33 512.67L1100.33 514.53M1109.39 512.67L1109.39 514.53M1104.21 507.07L1105.51 507.07M1104.21 520.13L1105.51 520.13M1093.86 464.70L1093.86 477.76M1093.86 464.70L1087.39 473.41M1087.39 473.41L1097.10 473.41M1100.98 467.19L1100.33 470.30M1108.74 467.19L1109.39 470.30M1100.33 472.16L1100.98 475.27M1109.39 472.16L1108.74 475.27M1102.27 465.32L1100.98 467.19M1107.45 465.32L1108.74 467.19M1100.98 475.27L1102.27 477.14M1108.74 475.27L1107.45 477.14M1104.21 464.70L1102.27 465.32M1105.51 464.70L1107.45 465.32M1102.27 477.14L1104.21 477.76M1107.45 477.14L1105.51 477.76M1100.33 470.30L1100.33 472.16M1109.39 470.30L1109.39 472.16M1104.21 464.70L1105.51 464.70M1104.21 477.76L1105.51 477.76M1088.68 422.33L1095.15 422.33M1088.68 422.33L1088.04 427.93M1090.63 426.68L1088.68 427.30M1092.57 426.68L1094.51 427.30M1095.80 428.55L1096.45 430.41M1096.45 431.66L1095.80 433.52M1088.68 434.77L1090.63 435.39M1094.51 434.77L1092.57 435.39M1090.63 426.68L1092.57 426.68M1090.63 435.39L1092.57 435.39M1094.51 427.30L1095.80 428.55M1095.80 433.52L1094.51 434.77M1087.39 432.90L1088.04 434.15M1096.45 430.41L1096.45 431.66M1088.68 427.30L1088.04 427.93M1088.04 434.15L1088.68 434.77M1100.98 424.82L1100.33 427.93M1108.74 424.82L1109.39 427.93M1100.33 429.79L1100.98 432.90M1109.39 429.79L1108.74 432.90M1102.27 422.95L1100.98 424.82M1107.45 422.95L1108.74 424.82M1100.98 432.90L1102.27 434.77M1108.74 432.90L1107.45 434.77M1104.21 422.33L1102.27 422.95M1105.51 422.33L1107.45 422.95M1102.27 434.77L1104.21 435.39M1107.45 434.77L1105.51 435.39M1100.33 427.93L1100.33 429.79M1109.39 427.93L1109.39 429.79M1104.21 422.33L1105.51 422.33M1104.21 435.39L1105.51 435.39M1088.68 382.45L1088.04 385.56M1088.04 385.56L1088.04 388.67M1088.04 388.67L1088.68 391.15M1089.98 380.58L1088.68 382.45M1091.92 379.96L1089.98 380.58M1093.21 379.96L1095.15 380.58M1091.92 384.93L1089.98 385.56M1092.57 384.93L1094.51 385.56M1088.68 386.80L1088.04 388.67M1095.80 386.80L1096.45 388.67M1096.45 389.29L1095.80 391.15M1089.98 392.40L1091.92 393.02M1094.51 392.40L1092.57 393.02M1089.98 385.56L1088.68 386.80M1094.51 385.56L1095.80 386.80M1088.68 391.15L1089.98 392.40M1095.80 391.15L1094.51 392.40M1095.15 380.58L1095.80 381.82M1091.92 379.96L1093.21 379.96M1091.92 384.93L1092.57 384.93M1096.45 388.67L1096.45 389.29M1091.92 393.02L1092.57 393.02M1100.98 382.45L1100.33 385.56M1108.74 382.45L1109.39 385.56M1100.33 387.42L1100.98 390.53M1109.39 387.42L1108.74 390.53M1102.27 380.58L1100.98 382.45M1107.45 380.58L1108.74 382.45M1100.98 390.53L1102.27 392.40M1108.74 390.53L1107.45 392.40M1104.21 379.96L1102.27 380.58M1105.51 379.96L1107.45 380.58M1102.27 392.40L1104.21 393.02M1107.45 392.40L1105.51 393.02M1100.33 385.56L1100.33 387.42M1109.39 385.56L1109.39 387.42M1104.21 379.96L1105.51 379.96M1104.21 393.02L1105.51 393.02M1096.45 337.59L1089.98 350.65M1087.39 337.59L1096.45 337.59M1101.62 337.59L1108.10 337.59M1101.62 337.59L1100.98 343.19M1103.57 341.94L1101.62 342.56M1105.51 341.94L1107.45 342.56M1108.74 343.81L1109.39 345.67M1109.39 346.92L1108.74 348.78M1101.62 350.03L1103.57 350.65M1107.45 350.03L1105.51 350.65M1103.57 341.94L1105.51 341.94M1103.57 350.65L1105.51 350.65M1107.45 342.56L1108.74 343.81M1108.74 348.78L1107.45 350.03M1100.33 348.16L1100.98 349.41M1109.39 345.67L1109.39 346.92M1101.62 342.56L1100.98 343.19M1100.98 349.41L1101.62 350.03M1095.80 302.68L1095.15 305.79M1095.80 299.57L1095.80 302.68M1095.15 297.08L1095.80 299.57M1095.15 305.79L1093.86 307.66M1091.27 295.22L1089.33 295.84M1091.92 295.22L1093.86 295.84M1088.04 297.08L1087.39 298.95M1087.39 299.57L1088.04 301.44M1095.80 299.57L1095.15 301.44M1089.33 302.68L1091.27 303.30M1093.86 302.68L1091.92 303.30M1088.68 307.66L1090.63 308.28M1093.86 307.66L1091.92 308.28M1089.33 295.84L1088.04 297.08M1093.86 295.84L1095.15 297.08M1088.04 301.44L1089.33 302.68M1095.15 301.44L1093.86 302.68M1088.04 306.41L1088.68 307.66M1090.63 308.28L1091.92 308.28M1091.27 295.22L1091.92 295.22M1087.39 298.95L1087.39 299.57M1091.27 303.30L1091.92 303.30M1100.98 297.71L1100.33 300.82M1108.74 297.71L1109.39 300.82M1100.33 302.68L1100.98 305.79M1109.39 302.68L1108.74 305.79M1102.27 295.84L1100.98 297.71M1107.45 295.84L1108.74 297.71M1100.98 305.79L1102.27 307.66M1108.74 305.79L1107.45 307.66M1104.21 295.22L1102.27 295.84M1105.51 295.22L1107.45 295.84M1102.27 307.66L1104.21 308.28M1107.45 307.66L1105.51 308.28M1100.33 300.82L1100.33 302.68M1109.39 300.82L1109.39 302.68M1104.21 295.22L1105.51 295.22M1104.21 308.28L1105.51 308.28M1092.57 252.85L1092.57 265.91M1092.57 252.85L1090.63 254.71M1090.63 254.71L1089.33 255.34M1100.98 255.34L1100.33 258.45M1108.74 255.34L1109.39 258.45M1100.33 260.31L1100.98 263.42M1109.39 260.31L1108.74 263.42M1102.27 253.47L1100.98 255.34M1107.45 253.47L1108.74 255.34M1100.98 263.42L1102.27 265.29M1108.74 263.42L1107.45 265.29M1104.21 252.85L1102.27 253.47M1105.51 252.85L1107.45 253.47M1102.27 265.29L1104.21 265.91M1107.45 265.29L1105.51 265.91M1100.33 258.45L1100.33 260.31M1109.39 258.45L1109.39 260.31M1104.21 252.85L1105.51 252.85M1104.21 265.91L1105.51 265.91M1113.92 255.34L1113.27 258.45M1121.68 255.34L1122.33 258.45M1113.27 260.31L1113.92 263.42M1122.33 260.31L1121.68 263.42M1115.21 253.47L1113.92 255.34M1120.39 253.47L1121.68 255.34M1113.92 263.42L1115.21 265.29M1121.68 263.42L1120.39 265.29M1117.15 252.85L1115.21 253.47M1118.45 252.85L1120.39 253.47M1115.21 265.29L1117.15 265.91M1120.39 265.29L1118.45 265.91M1113.27 258.45L1113.27 260.31M1122.33 258.45L1122.33 260.31M1117.15 252.85L1118.45 252.85M1117.15 265.91L1118.45 265.91M1092.57 210.48L1092.57 223.54M1092.57 210.48L1090.63 212.34M1090.63 212.34L1089.33 212.97M1106.80 217.32L1100.33 223.54M1100.33 223.54L1109.39 223.54M1103.57 210.48L1106.15 210.48M1108.10 215.45L1106.80 217.32M1103.57 210.48L1102.27 211.10M1106.15 210.48L1107.45 211.10M1101.62 211.72L1100.98 212.97M1108.10 211.72L1108.74 212.97M1108.74 214.21L1108.10 215.45M1108.74 212.97L1108.74 214.21M1102.27 211.10L1101.62 211.72M1107.45 211.10L1108.10 211.72M1100.98 212.97L1100.98 213.59M1113.92 212.97L1113.27 216.08M1121.68 212.97L1122.33 216.08M1113.27 217.94L1113.92 221.05M1122.33 217.94L1121.68 221.05M1115.21 211.10L1113.92 212.97M1120.39 211.10L1121.68 212.97M1113.92 221.05L1115.21 222.92M1121.68 221.05L1120.39 222.92M1117.15 210.48L1115.21 211.10M1118.45 210.48L1120.39 211.10M1115.21 222.92L1117.15 223.54M1120.39 222.92L1118.45 223.54M1113.27 216.08L1113.27 217.94M1122.33 216.08L1122.33 217.94M1117.15 210.48L1118.45 210.48M1117.15 223.54L1118.45 223.54M1092.57 168.11L1092.57 181.17M1092.57 168.11L1090.63 169.97M1090.63 169.97L1089.33 170.60M1101.62 168.11L1108.10 168.11M1101.62 168.11L1100.98 173.71M1103.57 172.46L1101.62 173.08M1105.51 172.46L1107.45 173.08M1108.74 174.33L1109.39 176.19M1109.39 177.44L1108.74 179.30M1101.62 180.55L1103.57 181.17M1107.45 180.55L1105.51 181.17M1103.57 172.46L1105.51 172.46M1103.57 181.17L1105.51 181.17M1107.45 173.08L1108.74 174.33M1108.74 179.30L1107.45 180.55M1100.33 178.68L1100.98 179.93M1109.39 176.19L1109.39 177.44M1101.62 173.08L1100.98 173.71M1100.98 179.93L1101.62 180.55M1113.92 170.60L1113.27 173.71M1121.68 170.60L1122.33 173.71M1113.27 175.57L1113.92 178.68M1122.33 175.57L1121.68 178.68M1115.21 168.73L1113.92 170.60M1120.39 168.73L1121.68 170.60M1113.92 178.68L1115.21 180.55M1121.68 178.68L1120.39 180.55M1117.15 168.11L1115.21 168.73M1118.45 168.11L1120.39 168.73M1115.21 180.55L1117.15 181.17M1120.39 180.55L1118.45 181.17M1113.27 173.71L1113.27 175.57M1122.33 173.71L1122.33 175.57M1117.15 168.11L1118.45 168.11M1117.15 181.17L1118.45 181.17M1093.86 132.58L1087.39 138.80M1087.39 138.80L1096.45 138.80M1090.63 125.74L1093.21 125.74M1095.15 130.71L1093.86 132.58M1090.63 125.74L1089.33 126.36M1093.21 125.74L1094.51 126.36M1088.68 126.98L1088.04 128.23M1095.15 126.98L1095.80 128.23M1095.80 129.47L1095.15 130.71M1095.80 128.23L1095.80 129.47M1089.33 126.36L1088.68 126.98M1094.51 126.36L1095.15 126.98M1088.04 128.23L1088.04 128.85M1100.98 128.23L1100.33 131.34M1108.74 128.23L1109.39 131.34M1100.33 133.20L1100.98 136.31M1109.39 133.20L1108.74 136.31M1102.27 126.36L1100.98 128.23M1107.45 126.36L1108.74 128.23M1100.98 136.31L1102.27 138.18M1108.74 136.31L1107.45 138.18M1104.21 125.74L1102.27 126.36M1105.51 125.74L1107.45 126.36M1102.27 138.18L1104.21 138.80M1107.45 138.18L1105.51 138.80M1100.33 131.34L1100.33 133.20M1109.39 131.34L1109.39 133.20M1104.21 125.74L1105.51 125.74M1104.21 138.80L1105.51 138.80M1113.92 128.23L1113.27 131.34M1121.68 128.23L1122.33 131.34M1113.27 133.20L1113.92 136.31M1122.33 133.20L1121.68 136.31M1115.21 126.36L1113.92 128.23M1120.39 126.36L1121.68 128.23M1113.92 136.31L1115.21 138.18M1121.68 136.31L1120.39 138.18M1117.15 125.74L1115.21 126.36M1118.45 125.74L1120.39 126.36M1115.21 138.18L1117.15 138.80M1120.39 138.18L1118.45 138.80M1113.27 131.34L1113.27 133.20M1122.33 131.34L1122.33 133.20M1117.15 125.74L1118.45 125.74M1117.15 138.80L1118.45 138.80" fill="none" stroke="#000" stroke-width="1.15" stroke-linecap="round" stroke-linejoin="round"/>
<path d="M128.30 8.39L128.30 29.60M136.24 8.39L143.68 29.60M151.12 8.39L143.68 29.60M136.24 8.39L136.24 29.60M151.12 8.39L151.12 29.60M159.06 8.39L172.08 29.60M159.06 8.39L159.06 29.60M172.08 8.39L172.08 29.60M194.90 4.35L178.16 36.67M199.12 8.39L203.77 29.60M208.42 8.39L203.77 29.60M208.42 8.39L213.07 29.60M217.72 8.39L213.07 29.60M223.80 8.39L223.80 29.60M230.31 18.49L236.82 29.60M223.80 8.39L232.17 8.39M223.80 18.49L232.17 18.49M232.17 8.39L234.96 9.40M234.96 17.48L232.17 18.49M235.89 10.41L236.82 12.43M236.82 14.45L235.89 16.47M236.82 12.43L236.82 14.45M234.96 9.40L235.89 10.41M235.89 16.47L234.96 17.48M243.83 8.39L243.83 29.60M243.83 8.39L255.92 8.39M243.83 18.49L251.27 18.49M261.07 20.51L277.81 20.51M292.26 8.39L292.26 29.60M292.26 8.39L289.47 11.42M289.47 11.42L287.61 12.43M311.36 8.39L311.36 29.60M311.36 8.39L308.57 11.42M308.57 11.42L306.71 12.43M340.70 8.39L340.70 29.60M340.70 8.39L349.07 8.39M340.70 19.50L349.07 19.50M349.07 8.39L351.86 9.40M351.86 18.49L349.07 19.50M353.72 12.43L353.72 15.46M352.79 10.41L353.72 12.43M353.72 15.46L352.79 17.48M351.86 9.40L352.79 10.41M352.79 17.48L351.86 18.49M360.73 15.46L360.73 29.60M361.66 18.49L360.73 21.52M365.38 15.46L368.17 15.46M363.52 16.47L361.66 18.49M365.38 15.46L363.52 16.47M372.39 21.52L383.55 21.52M373.32 18.49L372.39 21.52M372.39 23.54L373.32 26.57M377.04 15.46L379.83 15.46M377.04 29.60L379.83 29.60M375.18 16.47L373.32 18.49M373.32 26.57L375.18 28.59M383.55 26.57L381.69 28.59M377.04 15.46L375.18 16.47M379.83 15.46L381.69 16.47M382.62 17.48L383.55 19.50M375.18 28.59L377.04 29.60M381.69 28.59L379.83 29.60M383.55 19.50L383.55 21.52M372.39 21.52L372.39 23.54M381.69 16.47L382.62 17.48M390.56 18.49L389.63 21.52M389.63 23.54L390.56 26.57M394.28 15.46L397.07 15.46M394.28 29.60L397.07 29.60M392.42 16.47L390.56 18.49M398.93 16.47L400.79 18.49M390.56 26.57L392.42 28.59M400.79 26.57L398.93 28.59M394.28 15.46L392.42 16.47M397.07 15.46L398.93 16.47M392.42 28.59L394.28 29.60M398.93 28.59L397.07 29.60M389.63 21.52L389.63 23.54M407.80 15.46L407.80 29.60M407.80 7.38L406.87 8.39M407.80 7.38L408.73 8.39M406.87 8.39L407.80 9.40M408.73 8.39L407.80 9.40M415.74 15.46L415.74 36.67M425.97 18.49L426.90 21.52M426.90 23.54L425.97 26.57M419.46 15.46L422.25 15.46M419.46 29.60L422.25 29.60M417.60 16.47L415.74 18.49M424.11 16.47L425.97 18.49M415.74 26.57L417.60 28.59M425.97 26.57L424.11 28.59M419.46 15.46L417.60 16.47M422.25 15.46L424.11 16.47M417.60 28.59L419.46 29.60M424.11 28.59L422.25 29.60M426.90 21.52L426.90 23.54M433.91 15.46L433.91 29.60M433.91 7.38L432.98 8.39M433.91 7.38L434.84 8.39M432.98 8.39L433.91 9.40M434.84 8.39L433.91 9.40M442.78 8.39L442.78 25.56M439.99 15.46L446.50 15.46M442.78 25.56L443.71 28.59M443.71 28.59L445.57 29.60M445.57 29.60L447.43 29.60M463.74 15.46L463.74 29.60M453.51 18.49L452.58 21.52M452.58 23.54L453.51 26.57M457.23 15.46L460.02 15.46M457.23 29.60L460.02 29.60M455.37 16.47L453.51 18.49M461.88 16.47L463.74 18.49M453.51 26.57L455.37 28.59M463.74 26.57L461.88 28.59M457.23 15.46L455.37 16.47M460.02 15.46L461.88 16.47M455.37 28.59L457.23 29.60M461.88 28.59L460.02 29.60M452.58 21.52L452.58 23.54M471.68 18.49L470.75 21.52M470.75 23.54L471.68 26.57M475.40 15.46L478.19 15.46M475.40 29.60L478.19 29.60M473.54 16.47L471.68 18.49M480.05 16.47L481.91 18.49M471.68 26.57L473.54 28.59M481.91 26.57L480.05 28.59M475.40 15.46L473.54 16.47M478.19 15.46L480.05 16.47M473.54 28.59L475.40 29.60M480.05 28.59L478.19 29.60M470.75 21.52L470.75 23.54M488.92 15.46L488.92 29.60M488.92 7.38L487.99 8.39M488.92 7.38L489.85 8.39M487.99 8.39L488.92 9.40M489.85 8.39L488.92 9.40M496.86 18.49L495.93 21.52M507.09 18.49L508.02 21.52M495.93 23.54L496.86 26.57M508.02 23.54L507.09 26.57M500.58 15.46L503.37 15.46M500.58 29.60L503.37 29.60M498.72 16.47L496.86 18.49M505.23 16.47L507.09 18.49M496.86 26.57L498.72 28.59M507.09 26.57L505.23 28.59M500.58 15.46L498.72 16.47M503.37 15.46L505.23 16.47M498.72 28.59L500.58 29.60M505.23 28.59L503.37 29.60M495.93 21.52L495.93 23.54M508.02 21.52L508.02 23.54M515.03 15.46L515.03 29.60M525.26 19.50L525.26 29.60M517.82 16.47L515.03 19.50M524.33 16.47L525.26 19.50M519.68 15.46L522.47 15.46M519.68 15.46L517.82 16.47M522.47 15.46L524.33 16.47M554.60 8.39L547.16 29.60M554.60 8.39L562.04 29.60M549.95 22.53L559.25 22.53M567.19 18.49L566.26 21.52M566.26 23.54L567.19 26.57M570.91 15.46L573.70 15.46M570.91 29.60L573.70 29.60M569.05 16.47L567.19 18.49M575.56 16.47L577.42 18.49M567.19 26.57L569.05 28.59M577.42 26.57L575.56 28.59M570.91 15.46L569.05 16.47M573.70 15.46L575.56 16.47M569.05 28.59L570.91 29.60M575.56 28.59L573.70 29.60M566.26 21.52L566.26 23.54M594.66 15.46L594.66 29.60M584.43 15.46L584.43 25.56M594.66 25.56L591.87 28.59M584.43 25.56L585.36 28.59M587.22 29.60L590.01 29.60M585.36 28.59L587.22 29.60M591.87 28.59L590.01 29.60M602.60 15.46L602.60 29.60M612.83 19.50L612.83 29.60M623.06 19.50L623.06 29.60M605.39 16.47L602.60 19.50M615.62 16.47L612.83 19.50M611.90 16.47L612.83 19.50M622.13 16.47L623.06 19.50M607.25 15.46L610.04 15.46M617.48 15.46L620.27 15.46M607.25 15.46L605.39 16.47M610.04 15.46L611.90 16.47M617.48 15.46L615.62 16.47M620.27 15.46L622.13 16.47M641.23 15.46L641.23 29.60M631.00 15.46L631.00 25.56M641.23 25.56L638.44 28.59M631.00 25.56L631.93 28.59M633.79 29.60L636.58 29.60M631.93 28.59L633.79 29.60M638.44 28.59L636.58 29.60M649.17 8.39L649.17 29.60M667.34 15.46L667.34 29.60M657.11 18.49L656.18 21.52M656.18 23.54L657.11 26.57M660.83 15.46L663.62 15.46M660.83 29.60L663.62 29.60M658.97 16.47L657.11 18.49M665.48 16.47L667.34 18.49M657.11 26.57L658.97 28.59M667.34 26.57L665.48 28.59M660.83 15.46L658.97 16.47M663.62 15.46L665.48 16.47M658.97 28.59L660.83 29.60M665.48 28.59L663.62 29.60M656.18 21.52L656.18 23.54M685.51 8.39L685.51 29.60M675.28 18.49L674.35 21.52M674.35 23.54L675.28 26.57M679.00 15.46L681.79 15.46M679.00 29.60L681.79 29.60M677.14 16.47L675.28 18.49M683.65 16.47L685.51 18.49M675.28 26.57L677.14 28.59M685.51 26.57L683.65 28.59M679.00 15.46L677.14 16.47M681.79 15.46L683.65 16.47M677.14 28.59L679.00 29.60M683.65 28.59L681.79 29.60M674.35 21.52L674.35 23.54M703.68 15.46L703.68 29.60M693.45 18.49L692.52 21.52M692.52 23.54L693.45 26.57M697.17 15.46L699.96 15.46M697.17 29.60L699.96 29.60M695.31 16.47L693.45 18.49M701.82 16.47L703.68 18.49M693.45 26.57L695.31 28.59M703.68 26.57L701.82 28.59M697.17 15.46L695.31 16.47M699.96 15.46L701.82 16.47M695.31 28.59L697.17 29.60M701.82 28.59L699.96 29.60M692.52 21.52L692.52 23.54M738.60 8.39L738.60 29.60M728.37 18.49L727.44 21.52M727.44 23.54L728.37 26.57M732.09 15.46L734.88 15.46M732.09 29.60L734.88 29.60M730.23 16.47L728.37 18.49M736.74 16.47L738.60 18.49M728.37 26.57L730.23 28.59M738.60 26.57L736.74 28.59M732.09 15.46L730.23 16.47M734.88 15.46L736.74 16.47M730.23 28.59L732.09 29.60M736.74 28.59L734.88 29.60M727.44 21.52L727.44 23.54M756.77 15.46L756.77 29.60M746.54 15.46L746.54 25.56M756.77 25.56L753.98 28.59M746.54 25.56L747.47 28.59M749.33 29.60L752.12 29.60M747.47 28.59L749.33 29.60M753.98 28.59L752.12 29.60M764.71 15.46L764.71 29.60M765.64 18.49L764.71 21.52M769.36 15.46L772.15 15.46M767.50 16.47L765.64 18.49M769.36 15.46L767.50 16.47M787.53 15.46L787.53 29.60M777.30 18.49L776.37 21.52M776.37 23.54L777.30 26.57M781.02 15.46L783.81 15.46M781.02 29.60L783.81 29.60M779.16 16.47L777.30 18.49M785.67 16.47L787.53 18.49M777.30 26.57L779.16 28.59M787.53 26.57L785.67 28.59M781.02 15.46L779.16 16.47M783.81 15.46L785.67 16.47M779.16 28.59L781.02 29.60M785.67 28.59L783.81 29.60M776.37 21.52L776.37 23.54M795.47 15.46L795.47 29.60M805.70 19.50L805.70 29.60M798.26 16.47L795.47 19.50M804.77 16.47L805.70 19.50M800.12 15.46L802.91 15.46M800.12 15.46L798.26 16.47M802.91 15.46L804.77 16.47M814.57 8.39L814.57 25.56M811.78 15.46L818.29 15.46M814.57 25.56L815.50 28.59M815.50 28.59L817.36 29.60M817.36 29.60L819.22 29.60M824.37 21.52L835.53 21.52M825.30 18.49L824.37 21.52M824.37 23.54L825.30 26.57M829.02 15.46L831.81 15.46M829.02 29.60L831.81 29.60M827.16 16.47L825.30 18.49M825.30 26.57L827.16 28.59M835.53 26.57L833.67 28.59M829.02 15.46L827.16 16.47M831.81 15.46L833.67 16.47M834.60 17.48L835.53 19.50M827.16 28.59L829.02 29.60M833.67 28.59L831.81 29.60M835.53 19.50L835.53 21.52M824.37 21.52L824.37 23.54M833.67 16.47L834.60 17.48M860.22 8.39L870.45 8.39M870.45 8.39L864.87 16.47M870.45 18.49L871.38 21.52M871.38 23.54L870.45 26.57M860.22 28.59L863.01 29.60M868.59 28.59L865.80 29.60M864.87 16.47L867.66 16.47M863.01 29.60L865.80 29.60M870.45 26.57L868.59 28.59M867.66 16.47L869.52 17.48M858.36 25.56L859.29 27.58M871.38 21.52L871.38 23.54M869.52 17.48L870.45 18.49M859.29 27.58L860.22 28.59M895.14 8.39L895.14 29.60M905.37 19.50L905.37 29.60M897.93 16.47L895.14 19.50M904.44 16.47L905.37 19.50M899.79 15.46L902.58 15.46M899.79 15.46L897.93 16.47M902.58 15.46L904.44 16.47M913.31 18.49L912.38 21.52M923.54 18.49L924.47 21.52M912.38 23.54L913.31 26.57M924.47 23.54L923.54 26.57M917.03 15.46L919.82 15.46M917.03 29.60L919.82 29.60M915.17 16.47L913.31 18.49M921.68 16.47L923.54 18.49M913.31 26.57L915.17 28.59M923.54 26.57L921.68 28.59M917.03 15.46L915.17 16.47M919.82 15.46L921.68 16.47M915.17 28.59L917.03 29.60M921.68 28.59L919.82 29.60M912.38 21.52L912.38 23.54M924.47 21.52L924.47 23.54M931.48 15.46L931.48 29.60M932.41 18.49L931.48 21.52M936.13 15.46L938.92 15.46M934.27 16.47L932.41 18.49M936.13 15.46L934.27 16.47M954.30 15.46L954.30 29.60M944.07 18.49L943.14 21.52M943.14 23.54L944.07 26.57M947.79 15.46L950.58 15.46M947.79 29.60L950.58 29.60M945.93 16.47L944.07 18.49M952.44 16.47L954.30 18.49M944.07 26.57L945.93 28.59M954.30 26.57L952.44 28.59M947.79 15.46L945.93 16.47M950.58 15.46L952.44 16.47M945.93 28.59L947.79 29.60M952.44 28.59L950.58 29.60M943.14 21.52L943.14 23.54M964.10 21.52L968.75 22.53M965.03 15.46L962.24 16.47M967.82 15.46L970.61 16.47M962.24 28.59L965.03 29.60M970.61 28.59L967.82 29.60M965.03 15.46L967.82 15.46M965.03 29.60L967.82 29.60M962.24 16.47L961.31 18.49M970.61 16.47L971.54 18.49M961.31 18.49L962.24 20.51M962.24 20.51L964.10 21.52M968.75 22.53L970.61 23.54M970.61 23.54L971.54 25.56M961.31 26.57L962.24 28.59M971.54 26.57L970.61 28.59M971.54 25.56L971.54 26.57M996.23 13.44L995.30 18.49M995.30 22.53L996.23 27.58M998.09 9.40L996.23 13.44M996.23 27.58L998.09 31.62M995.30 18.49L995.30 22.53M999.95 6.37L998.09 9.40M998.09 31.62L999.95 34.65M1001.81 4.35L999.95 6.37M999.95 34.65L1001.81 36.67M1008.82 15.46L1008.82 29.60M1019.05 19.50L1019.05 29.60M1029.28 19.50L1029.28 29.60M1011.61 16.47L1008.82 19.50M1021.84 16.47L1019.05 19.50M1018.12 16.47L1019.05 19.50M1028.35 16.47L1029.28 19.50M1013.47 15.46L1016.26 15.46M1023.70 15.46L1026.49 15.46M1013.47 15.46L1011.61 16.47M1016.26 15.46L1018.12 16.47M1023.70 15.46L1021.84 16.47M1026.49 15.46L1028.35 16.47M1037.22 15.46L1037.22 29.60M1047.45 19.50L1047.45 29.60M1057.68 19.50L1057.68 29.60M1040.01 16.47L1037.22 19.50M1050.24 16.47L1047.45 19.50M1046.52 16.47L1047.45 19.50M1056.75 16.47L1057.68 19.50M1041.87 15.46L1044.66 15.46M1052.10 15.46L1054.89 15.46M1041.87 15.46L1040.01 16.47M1044.66 15.46L1046.52 16.47M1052.10 15.46L1050.24 16.47M1054.89 15.46L1056.75 16.47M1070.27 13.44L1071.20 18.49M1071.20 22.53L1070.27 27.58M1068.41 9.40L1070.27 13.44M1070.27 27.58L1068.41 31.62M1071.20 18.49L1071.20 22.53M1066.55 6.37L1068.41 9.40M1068.41 31.62L1066.55 34.65M1064.69 4.35L1066.55 6.37M1066.55 34.65L1064.69 36.67M474.29 51.30L464.99 61.40M464.99 61.40L478.01 61.40M469.64 40.19L473.36 40.19M476.15 48.27L474.29 51.30M469.64 40.19L467.78 41.20M473.36 40.19L475.22 41.20M466.85 42.21L465.92 44.23M476.15 42.21L477.08 44.23M477.08 46.25L476.15 48.27M477.08 44.23L477.08 46.25M467.78 41.20L466.85 42.21M475.22 41.20L476.15 42.21M465.92 44.23L465.92 45.24M485.02 44.23L484.09 49.28M496.18 44.23L497.11 49.28M484.09 52.31L485.02 57.36M497.11 52.31L496.18 57.36M486.88 41.20L485.02 44.23M494.32 41.20L496.18 44.23M485.02 57.36L486.88 60.39M496.18 57.36L494.32 60.39M489.67 40.19L486.88 41.20M491.53 40.19L494.32 41.20M486.88 60.39L489.67 61.40M494.32 60.39L491.53 61.40M484.09 49.28L484.09 52.31M497.11 49.28L497.11 52.31M489.67 40.19L491.53 40.19M489.67 61.40L491.53 61.40M512.49 51.30L503.19 61.40M503.19 61.40L516.21 61.40M507.84 40.19L511.56 40.19M514.35 48.27L512.49 51.30M507.84 40.19L505.98 41.20M511.56 40.19L513.42 41.20M505.05 42.21L504.12 44.23M514.35 42.21L515.28 44.23M515.28 46.25L514.35 48.27M515.28 44.23L515.28 46.25M505.98 41.20L505.05 42.21M513.42 41.20L514.35 42.21M504.12 44.23L504.12 45.24M524.15 40.19L533.45 40.19M524.15 40.19L523.22 49.28M526.94 47.26L524.15 48.27M529.73 47.26L532.52 48.27M534.38 50.29L535.31 53.32M535.31 55.34L534.38 58.37M524.15 60.39L526.94 61.40M532.52 60.39L529.73 61.40M526.94 47.26L529.73 47.26M526.94 61.40L529.73 61.40M532.52 48.27L534.38 50.29M534.38 58.37L532.52 60.39M522.29 57.36L523.22 59.38M535.31 53.32L535.31 55.34M524.15 48.27L523.22 49.28M523.22 59.38L524.15 60.39M542.32 52.31L559.06 52.31M567.00 44.23L566.07 49.28M578.16 44.23L579.09 49.28M566.07 52.31L567.00 57.36M579.09 52.31L578.16 57.36M568.86 41.20L567.00 44.23M576.30 41.20L578.16 44.23M567.00 57.36L568.86 60.39M578.16 57.36L576.30 60.39M571.65 40.19L568.86 41.20M573.51 40.19L576.30 41.20M568.86 60.39L571.65 61.40M576.30 60.39L573.51 61.40M566.07 49.28L566.07 52.31M579.09 49.28L579.09 52.31M571.65 40.19L573.51 40.19M571.65 61.40L573.51 61.40M597.26 52.31L596.33 57.36M597.26 47.26L597.26 52.31M596.33 43.22L597.26 47.26M596.33 57.36L594.47 60.39M590.75 40.19L587.96 41.20M591.68 40.19L594.47 41.20M586.10 43.22L585.17 46.25M585.17 47.26L586.10 50.29M597.26 47.26L596.33 50.29M587.96 52.31L590.75 53.32M594.47 52.31L591.68 53.32M587.03 60.39L589.82 61.40M594.47 60.39L591.68 61.40M587.96 41.20L586.10 43.22M594.47 41.20L596.33 43.22M586.10 50.29L587.96 52.31M596.33 50.29L594.47 52.31M586.10 58.37L587.03 60.39M589.82 61.40L591.68 61.40M590.75 40.19L591.68 40.19M585.17 46.25L585.17 47.26M590.75 53.32L591.68 53.32M605.20 52.31L621.94 52.31M636.39 40.19L636.39 61.40M636.39 40.19L633.60 43.22M633.60 43.22L631.74 44.23M655.49 40.19L655.49 61.40M655.49 40.19L652.70 43.22M652.70 43.22L650.84 44.23M693.20 51.30L683.90 61.40M683.90 61.40L696.92 61.40M688.55 40.19L692.27 40.19M695.06 48.27L693.20 51.30M688.55 40.19L686.69 41.20M692.27 40.19L694.13 41.20M685.76 42.21L684.83 44.23M695.06 42.21L695.99 44.23M695.99 46.25L695.06 48.27M695.99 44.23L695.99 46.25M686.69 41.20L685.76 42.21M694.13 41.20L695.06 42.21M684.83 44.23L684.83 45.24M710.44 40.19L710.44 61.40M710.44 40.19L707.65 43.22M707.65 43.22L705.79 44.23M735.12 40.19L722.10 61.40M722.10 40.19L735.12 40.19M722.10 61.40L735.12 61.40" fill="none" stroke="#000" stroke-width="1.35" stroke-linecap="round" stroke-linejoin="round"/>
<path d="M330.30 860.61L330.30 876.00M337.00 865.74L337.00 876.00M346.02 868.67L346.02 876.00M339.46 866.47L337.00 868.67M345.20 866.47L346.02 868.67M341.10 865.74L343.56 865.74M341.10 865.74L339.46 866.47M343.56 865.74L345.20 866.47M354.36 870.14L358.46 870.87M355.18 865.74L352.72 866.47M357.64 865.74L360.10 866.47M352.72 875.27L355.18 876.00M360.10 875.27L357.64 876.00M355.18 865.74L357.64 865.74M355.18 876.00L357.64 876.00M352.72 866.47L351.90 867.94M360.10 866.47L360.92 867.94M351.90 867.94L352.72 869.40M352.72 869.40L354.36 870.14M358.46 870.87L360.10 871.60M360.10 871.60L360.92 873.07M351.90 873.80L352.72 875.27M360.92 873.80L360.10 875.27M360.92 873.07L360.92 873.80M367.62 860.61L367.62 873.07M365.16 865.74L370.90 865.74M367.62 873.07L368.44 875.27M368.44 875.27L370.08 876.00M370.08 876.00L371.72 876.00M376.78 865.74L376.78 876.00M376.78 859.87L375.96 860.61M376.78 859.87L377.60 860.61M375.96 860.61L376.78 861.34M377.60 860.61L376.78 861.34M384.30 860.61L384.30 873.07M381.84 865.74L387.58 865.74M384.30 873.07L385.12 875.27M385.12 875.27L386.76 876.00M386.76 876.00L388.40 876.00M402.48 865.74L402.48 876.00M393.46 865.74L393.46 873.07M402.48 873.07L400.02 875.27M393.46 873.07L394.28 875.27M395.92 876.00L398.38 876.00M394.28 875.27L395.92 876.00M400.02 875.27L398.38 876.00M410.00 860.61L410.00 873.07M407.54 865.74L413.28 865.74M410.00 873.07L410.82 875.27M410.82 875.27L412.46 876.00M412.46 876.00L414.10 876.00M419.16 867.94L418.34 870.14M428.18 867.94L429.00 870.14M418.34 871.60L419.16 873.80M429.00 871.60L428.18 873.80M422.44 865.74L424.90 865.74M422.44 876.00L424.90 876.00M420.80 866.47L419.16 867.94M426.54 866.47L428.18 867.94M419.16 873.80L420.80 875.27M428.18 873.80L426.54 875.27M422.44 865.74L420.80 866.47M424.90 865.74L426.54 866.47M420.80 875.27L422.44 876.00M426.54 875.27L424.90 876.00M418.34 870.14L418.34 871.60M429.00 870.14L429.00 871.60M448.14 860.61L454.70 876.00M461.26 860.61L454.70 876.00M448.14 860.61L448.14 876.00M461.26 860.61L461.26 876.00M467.14 870.14L476.98 870.14M467.96 867.94L467.14 870.14M467.14 871.60L467.96 873.80M471.24 865.74L473.70 865.74M471.24 876.00L473.70 876.00M469.60 866.47L467.96 867.94M467.96 873.80L469.60 875.27M476.98 873.80L475.34 875.27M471.24 865.74L469.60 866.47M473.70 865.74L475.34 866.47M476.16 867.20L476.98 868.67M469.60 875.27L471.24 876.00M475.34 875.27L473.70 876.00M476.98 868.67L476.98 870.14M467.14 870.14L467.14 871.60M475.34 866.47L476.16 867.20M483.68 860.61L483.68 873.07M481.22 865.74L486.96 865.74M483.68 873.07L484.50 875.27M484.50 875.27L486.14 876.00M486.14 876.00L487.78 876.00M492.02 870.14L501.86 870.14M492.84 867.94L492.02 870.14M492.02 871.60L492.84 873.80M496.12 865.74L498.58 865.74M496.12 876.00L498.58 876.00M494.48 866.47L492.84 867.94M492.84 873.80L494.48 875.27M501.86 873.80L500.22 875.27M496.12 865.74L494.48 866.47M498.58 865.74L500.22 866.47M501.04 867.20L501.86 868.67M494.48 875.27L496.12 876.00M500.22 875.27L498.58 876.00M501.86 868.67L501.86 870.14M492.02 870.14L492.02 871.60M500.22 866.47L501.04 867.20M507.74 867.94L506.92 870.14M516.76 867.94L517.58 870.14M506.92 871.60L507.74 873.80M517.58 871.60L516.76 873.80M511.02 865.74L513.48 865.74M511.02 876.00L513.48 876.00M509.38 866.47L507.74 867.94M515.12 866.47L516.76 867.94M507.74 873.80L509.38 875.27M516.76 873.80L515.12 875.27M511.02 865.74L509.38 866.47M513.48 865.74L515.12 866.47M509.38 875.27L511.02 876.00M515.12 875.27L513.48 876.00M506.92 870.14L506.92 871.60M517.58 870.14L517.58 871.60M523.46 865.74L523.46 876.00M524.28 867.94L523.46 870.14M527.56 865.74L530.02 865.74M525.92 866.47L524.28 867.94M527.56 865.74L525.92 866.47M534.26 867.94L533.44 870.14M543.28 867.94L544.10 870.14M533.44 871.60L534.26 873.80M544.10 871.60L543.28 873.80M537.54 865.74L540.00 865.74M537.54 876.00L540.00 876.00M535.90 866.47L534.26 867.94M541.64 866.47L543.28 867.94M534.26 873.80L535.90 875.27M543.28 873.80L541.64 875.27M537.54 865.74L535.90 866.47M540.00 865.74L541.64 866.47M535.90 875.27L537.54 876.00M541.64 875.27L540.00 876.00M533.44 870.14L533.44 871.60M544.10 870.14L544.10 871.60M549.98 860.61L549.98 876.00M556.68 867.94L555.86 870.14M565.70 867.94L566.52 870.14M555.86 871.60L556.68 873.80M566.52 871.60L565.70 873.80M559.96 865.74L562.42 865.74M559.96 876.00L562.42 876.00M558.32 866.47L556.68 867.94M564.06 866.47L565.70 867.94M556.68 873.80L558.32 875.27M565.70 873.80L564.06 875.27M559.96 865.74L558.32 866.47M562.42 865.74L564.06 866.47M558.32 875.27L559.96 876.00M564.06 875.27L562.42 876.00M555.86 870.14L555.86 871.60M566.52 870.14L566.52 871.60M581.42 865.74L581.42 877.47M572.40 867.94L571.58 870.14M571.58 871.60L572.40 873.80M581.42 877.47L580.60 879.66M575.68 865.74L578.14 865.74M575.68 876.00L578.14 876.00M575.68 881.13L578.14 881.13M574.04 866.47L572.40 867.94M579.78 866.47L581.42 867.94M572.40 873.80L574.04 875.27M581.42 873.80L579.78 875.27M575.68 865.74L574.04 866.47M578.14 865.74L579.78 866.47M574.04 875.27L575.68 876.00M579.78 875.27L578.14 876.00M574.04 880.40L575.68 881.13M579.78 880.40L578.14 881.13M571.58 870.14L571.58 871.60M580.60 879.66L579.78 880.40M588.12 865.74L588.12 876.00M588.12 859.87L587.30 860.61M588.12 859.87L588.94 860.61M587.30 860.61L588.12 861.34M588.94 860.61L588.12 861.34M594.82 867.94L594.00 870.14M594.00 871.60L594.82 873.80M598.10 865.74L600.56 865.74M598.10 876.00L600.56 876.00M596.46 866.47L594.82 867.94M602.20 866.47L603.84 867.94M594.82 873.80L596.46 875.27M603.84 873.80L602.20 875.27M598.10 865.74L596.46 866.47M600.56 865.74L602.20 866.47M596.46 875.27L598.10 876.00M602.20 875.27L600.56 876.00M594.00 870.14L594.00 871.60M609.72 867.94L608.90 870.14M618.74 867.94L619.56 870.14M608.90 871.60L609.72 873.80M619.56 871.60L618.74 873.80M613.00 865.74L615.46 865.74M613.00 876.00L615.46 876.00M611.36 866.47L609.72 867.94M617.10 866.47L618.74 867.94M609.72 873.80L611.36 875.27M618.74 873.80L617.10 875.27M613.00 865.74L611.36 866.47M615.46 865.74L617.10 866.47M611.36 875.27L613.00 876.00M617.10 875.27L615.46 876.00M608.90 870.14L608.90 871.60M619.56 870.14L619.56 871.60M638.70 860.61L650.18 876.00M638.70 860.61L638.70 876.00M650.18 860.61L650.18 876.00M665.90 865.74L665.90 876.00M656.88 867.94L656.06 870.14M656.06 871.60L656.88 873.80M660.16 865.74L662.62 865.74M660.16 876.00L662.62 876.00M658.52 866.47L656.88 867.94M664.26 866.47L665.90 867.94M656.88 873.80L658.52 875.27M665.90 873.80L664.26 875.27M660.16 865.74L658.52 866.47M662.62 865.74L664.26 866.47M658.52 875.27L660.16 876.00M664.26 875.27L662.62 876.00M656.06 870.14L656.06 871.60M672.60 867.94L671.78 870.14M671.78 871.60L672.60 873.80M675.88 865.74L678.34 865.74M675.88 876.00L678.34 876.00M674.24 866.47L672.60 867.94M679.98 866.47L681.62 867.94M672.60 873.80L674.24 875.27M681.62 873.80L679.98 875.27M675.88 865.74L674.24 866.47M678.34 865.74L679.98 866.47M674.24 875.27L675.88 876.00M679.98 875.27L678.34 876.00M671.78 870.14L671.78 871.60M687.50 865.74L687.50 876.00M687.50 859.87L686.68 860.61M687.50 859.87L688.32 860.61M686.68 860.61L687.50 861.34M688.32 860.61L687.50 861.34M694.20 867.94L693.38 870.14M703.22 867.94L704.04 870.14M693.38 871.60L694.20 873.80M704.04 871.60L703.22 873.80M697.48 865.74L699.94 865.74M697.48 876.00L699.94 876.00M695.84 866.47L694.20 867.94M701.58 866.47L703.22 867.94M694.20 873.80L695.84 875.27M703.22 873.80L701.58 875.27M697.48 865.74L695.84 866.47M699.94 865.74L701.58 866.47M695.84 875.27L697.48 876.00M701.58 875.27L699.94 876.00M693.38 870.14L693.38 871.60M704.04 870.14L704.04 871.60M709.92 865.74L709.92 876.00M718.94 868.67L718.94 876.00M712.38 866.47L709.92 868.67M718.12 866.47L718.94 868.67M714.02 865.74L716.48 865.74M714.02 865.74L712.38 866.47M716.48 865.74L718.12 866.47M734.66 865.74L734.66 876.00M725.64 867.94L724.82 870.14M724.82 871.60L725.64 873.80M728.92 865.74L731.38 865.74M728.92 876.00L731.38 876.00M727.28 866.47L725.64 867.94M733.02 866.47L734.66 867.94M725.64 873.80L727.28 875.27M734.66 873.80L733.02 875.27M728.92 865.74L727.28 866.47M731.38 865.74L733.02 866.47M727.28 875.27L728.92 876.00M733.02 875.27L731.38 876.00M724.82 870.14L724.82 871.60M741.36 860.61L741.36 876.00M760.50 866.47L760.50 870.14M765.42 860.61L768.70 860.61M765.42 876.00L768.70 876.00M761.32 864.27L760.50 866.47M760.50 870.14L761.32 872.34M763.78 861.34L762.14 862.81M770.34 861.34L771.98 862.81M762.14 873.80L763.78 875.27M771.98 873.80L770.34 875.27M765.42 860.61L763.78 861.34M768.70 860.61L770.34 861.34M762.14 862.81L761.32 864.27M771.98 862.81L772.80 864.27M761.32 872.34L762.14 873.80M772.80 872.34L771.98 873.80M763.78 875.27L765.42 876.00M770.34 875.27L768.70 876.00M778.68 867.94L777.86 870.14M787.70 867.94L788.52 870.14M777.86 871.60L778.68 873.80M788.52 871.60L787.70 873.80M781.96 865.74L784.42 865.74M781.96 876.00L784.42 876.00M780.32 866.47L778.68 867.94M786.06 866.47L787.70 867.94M778.68 873.80L780.32 875.27M787.70 873.80L786.06 875.27M781.96 865.74L780.32 866.47M784.42 865.74L786.06 866.47M780.32 875.27L781.96 876.00M786.06 875.27L784.42 876.00M777.86 870.14L777.86 871.60M788.52 870.14L788.52 871.60M796.04 870.14L800.14 870.87M796.86 865.74L794.40 866.47M799.32 865.74L801.78 866.47M794.40 875.27L796.86 876.00M801.78 875.27L799.32 876.00M796.86 865.74L799.32 865.74M796.86 876.00L799.32 876.00M794.40 866.47L793.58 867.94M801.78 866.47L802.60 867.94M793.58 867.94L794.40 869.40M794.40 869.40L796.04 870.14M800.14 870.87L801.78 871.60M801.78 871.60L802.60 873.07M793.58 873.80L794.40 875.27M802.60 873.80L801.78 875.27M802.60 873.07L802.60 873.80M809.30 860.61L809.30 873.07M806.84 865.74L812.58 865.74M809.30 873.07L810.12 875.27M810.12 875.27L811.76 876.00M811.76 876.00L813.40 876.00M827.48 865.74L827.48 876.00M818.46 867.94L817.64 870.14M817.64 871.60L818.46 873.80M821.74 865.74L824.20 865.74M821.74 876.00L824.20 876.00M820.10 866.47L818.46 867.94M825.84 866.47L827.48 867.94M818.46 873.80L820.10 875.27M827.48 873.80L825.84 875.27M821.74 865.74L820.10 866.47M824.20 865.74L825.84 866.47M820.10 875.27L821.74 876.00M825.84 875.27L824.20 876.00M817.64 870.14L817.64 871.60M847.44 860.61L847.44 876.00M853.18 867.94L858.92 876.00M847.44 860.61L854.82 860.61M847.44 867.94L854.82 867.94M854.82 860.61L857.28 861.34M857.28 867.20L854.82 867.94M858.10 862.07L858.92 863.54M858.92 865.00L858.10 866.47M858.92 863.54L858.92 865.00M857.28 861.34L858.10 862.07M858.10 866.47L857.28 867.20M864.80 865.74L864.80 876.00M864.80 859.87L863.98 860.61M864.80 859.87L865.62 860.61M863.98 860.61L864.80 861.34M865.62 860.61L864.80 861.34M871.50 867.94L870.68 870.14M870.68 871.60L871.50 873.80M874.78 865.74L877.24 865.74M874.78 876.00L877.24 876.00M873.14 866.47L871.50 867.94M878.88 866.47L880.52 867.94M871.50 873.80L873.14 875.27M880.52 873.80L878.88 875.27M874.78 865.74L873.14 866.47M877.24 865.74L878.88 866.47M873.14 875.27L874.78 876.00M878.88 875.27L877.24 876.00M870.68 870.14L870.68 871.60M895.42 865.74L895.42 876.00M886.40 867.94L885.58 870.14M885.58 871.60L886.40 873.80M889.68 865.74L892.14 865.74M889.68 876.00L892.14 876.00M888.04 866.47L886.40 867.94M893.78 866.47L895.42 867.94M886.40 873.80L888.04 875.27M895.42 873.80L893.78 875.27M889.68 865.74L888.04 866.47M892.14 865.74L893.78 866.47M888.04 875.27L889.68 876.00M893.78 875.27L892.14 876.00M885.58 870.14L885.58 871.60" fill="none" stroke="#000" stroke-width="0.9" stroke-linecap="round" stroke-linejoin="round"/>
<text class="hid" x="600" y="30" font-size="29" text-anchor="middle">IMN/WRF-11 Precipitacion Acumulada durante 3 horas (mm)</text>
<text class="hid" x="600" y="61" font-size="29" text-anchor="middle">2025-09-11 21Z</text>
<text class="hid" x="613" y="876" font-size="21" text-anchor="middle">Instituto Meteorologico Nacional Costa Rica</text>
<text class="hid" x="1085" y="774.8" font-size="20">3.5</text>
<text class="hid" x="1085" y="732.4" font-size="20">7</text>
<text class="hid" x="1085" y="690.1" font-size="20">12.5</text>
<text class="hid" x="1085" y="647.7" font-size="20">15</text>
<text class="hid" x="1085" y="605.3" font-size="20">20</text>
<text class="hid" x="1085" y="562.9" font-size="20">25</text>
<text class="hid" x="1085" y="520.6" font-size="20">30</text>
<text class="hid" x="1085" y="478.2" font-size="20">40</text>
<text class="hid" x="1085" y="435.8" font-size="20">50</text>
<text class="hid" x="1085" y="393.5" font-size="20">60</text>
<text class="hid" x="1085" y="351.1" font-size="20">75</text>
<text class="hid" x="1085" y="308.7" font-size="20">90</text>
<text class="hid" x="1085" y="266.4" font-size="20">100</text>
<text class="hid" x="1085" y="224.0" font-size="20">120</text>
<text class="hid" x="1085" y="181.6" font-size="20">150</text>
<text class="hid" x="1085" y="139.2" font-size="20">200</text>
</svg></body></html>
